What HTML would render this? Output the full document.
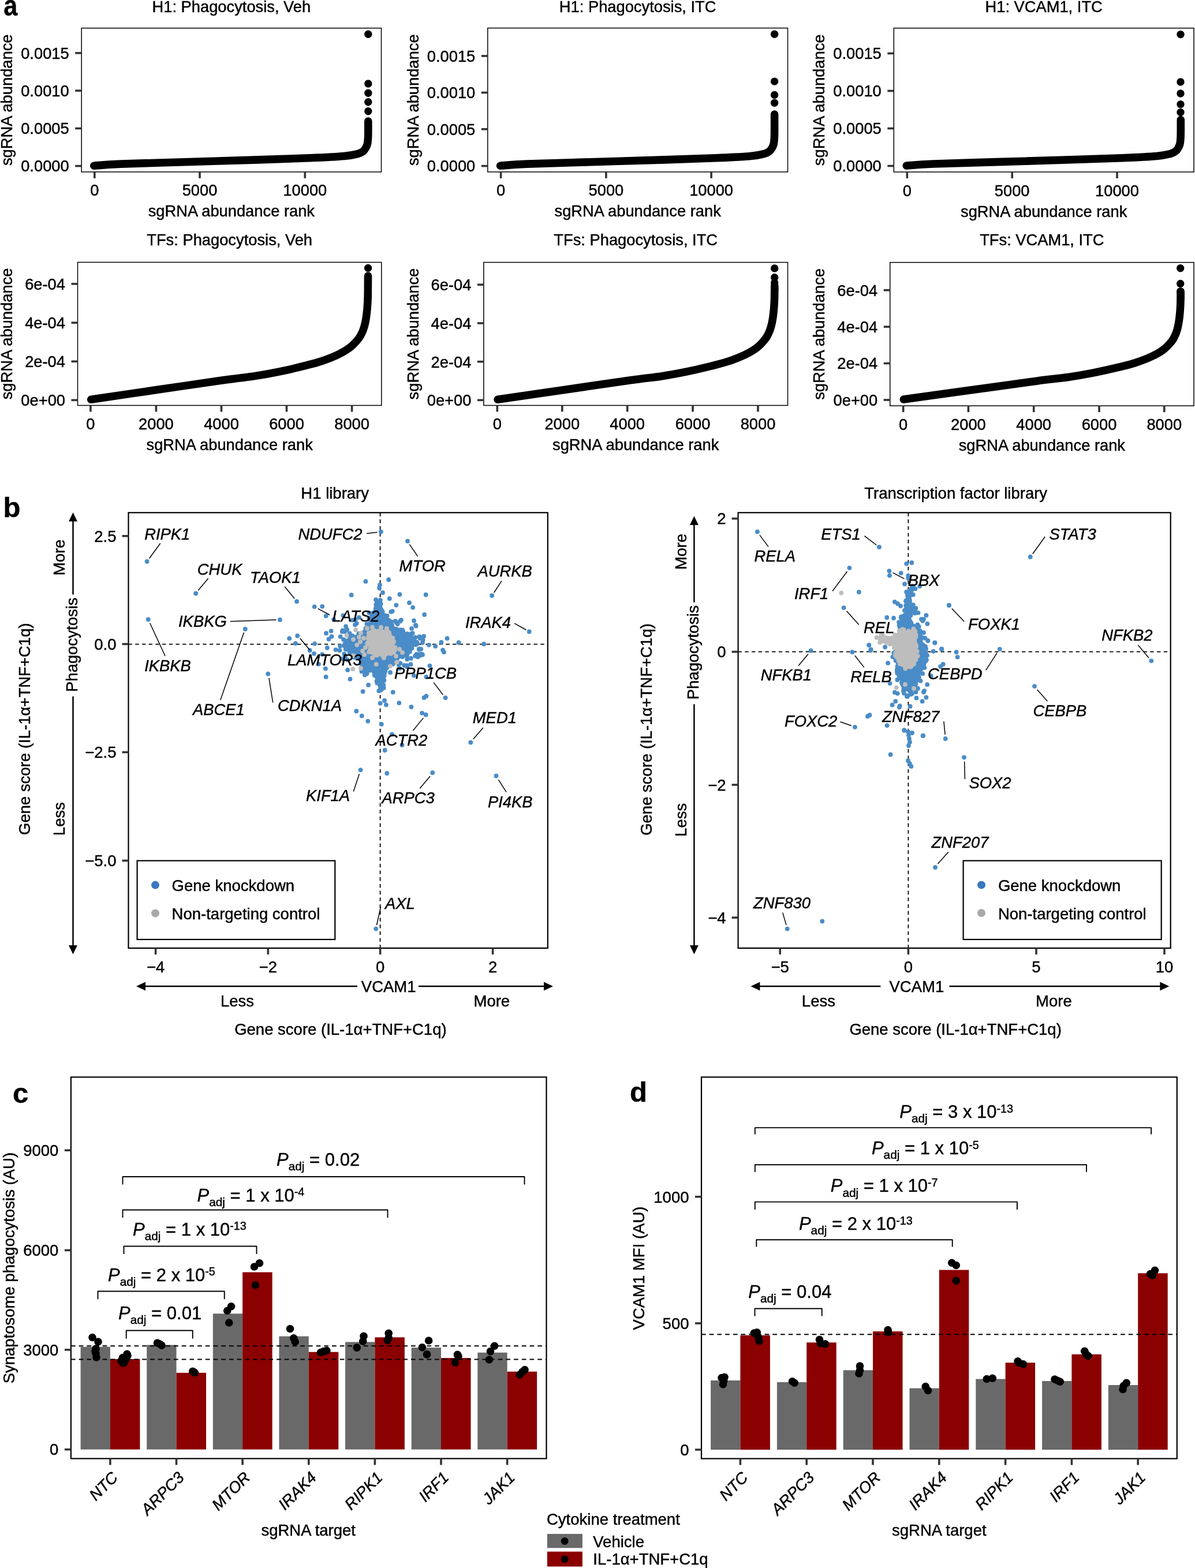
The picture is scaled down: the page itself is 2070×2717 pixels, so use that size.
<!DOCTYPE html>
<html><head><meta charset="utf-8"><title>Figure</title>
<style>html,body{margin:0;padding:0;background:#fff;}svg{display:block;}text{stroke:#000;stroke-width:0.45px;}</style>
</head><body>
<svg xmlns="http://www.w3.org/2000/svg" width="2070" height="2717" viewBox="0 0 2070 2717" font-family="'Liberation Sans', Arial, Helvetica, sans-serif">
<rect x="0" y="0" width="2070" height="2717" fill="#fff"/>
<text x="400.85" y="20.7" font-size="27.3" text-anchor="middle" fill="#000">H1: Phagocytosis, Veh</text>
<path d="M162.8 287.2 C170.58 286.68 181.87 285.22 209.5 284.1 C237.13 282.98 288.92 281.7 328.6 280.5 C368.28 279.3 412.88 278.02 447.6 276.9 C482.32 275.78 512.1 274.87 536.9 273.8 C561.7 272.73 582.52 271.73 596.4 270.5 C610.28 269.27 614.8 267.78 620.2 266.4 C625.6 265.02 626.62 263.82 628.8 262.2 C630.98 260.58 632.05 258.78 633.3 256.7 C634.55 254.62 635.6 252.53 636.3 249.7 C637 246.87 637.25 243.37 637.5 239.7 C637.75 236.03 637.75 232.65 637.8 227.7 C637.85 222.75 637.8 212.95 637.8 210" fill="none" stroke="#000" stroke-width="13.6" stroke-linecap="round" stroke-linejoin="round"/>
<circle cx="637.8" cy="59.2" r="6.7" fill="#000"/>
<circle cx="637.8" cy="145" r="6.7" fill="#000"/>
<circle cx="637.8" cy="161.2" r="6.7" fill="#000"/>
<circle cx="637.8" cy="176.8" r="6.7" fill="#000"/>
<circle cx="637.8" cy="192.8" r="6.7" fill="#000"/>
<rect x="141.2" y="48.7" width="519.3" height="249.2" fill="none" stroke="#000" stroke-width="1.5"/>
<line x1="163.8" y1="297.9" x2="163.8" y2="308.9" stroke="#333" stroke-width="3.6" stroke-linecap="butt"/>
<text x="163.8" y="339.4" font-size="27.3" text-anchor="middle" fill="#000">0</text>
<line x1="346" y1="297.9" x2="346" y2="308.9" stroke="#333" stroke-width="3.6" stroke-linecap="butt"/>
<text x="346" y="339.4" font-size="27.3" text-anchor="middle" fill="#000">5000</text>
<line x1="528.3" y1="297.9" x2="528.3" y2="308.9" stroke="#333" stroke-width="3.6" stroke-linecap="butt"/>
<text x="528.3" y="339.4" font-size="27.3" text-anchor="middle" fill="#000">10000</text>
<line x1="130.2" y1="91.9" x2="141.2" y2="91.9" stroke="#333" stroke-width="3.6" stroke-linecap="butt"/>
<text x="119.7" y="101.7" font-size="27.3" text-anchor="end" fill="#000">0.0015</text>
<line x1="130.2" y1="157.1" x2="141.2" y2="157.1" stroke="#333" stroke-width="3.6" stroke-linecap="butt"/>
<text x="119.7" y="166.9" font-size="27.3" text-anchor="end" fill="#000">0.0010</text>
<line x1="130.2" y1="222.5" x2="141.2" y2="222.5" stroke="#333" stroke-width="3.6" stroke-linecap="butt"/>
<text x="119.7" y="232.3" font-size="27.3" text-anchor="end" fill="#000">0.0005</text>
<line x1="130.2" y1="287.6" x2="141.2" y2="287.6" stroke="#333" stroke-width="3.6" stroke-linecap="butt"/>
<text x="119.7" y="297.4" font-size="27.3" text-anchor="end" fill="#000">0.0000</text>
<text x="400.85" y="375.4" font-size="27.3" text-anchor="middle" fill="#000">sgRNA abundance rank</text>
<text x="21.2" y="173.3" font-size="27.3" text-anchor="middle" transform="rotate(-90 21.2 173.3)" fill="#000">sgRNA abundance</text>
<text x="1104.65" y="20.7" font-size="27.3" text-anchor="middle" fill="#000">H1: Phagocytosis, ITC</text>
<path d="M866.6 287.2 C874.38 286.68 885.67 285.22 913.3 284.1 C940.93 282.98 992.72 281.7 1032.4 280.5 C1072.08 279.3 1116.68 278.02 1151.4 276.9 C1186.12 275.78 1215.9 274.87 1240.7 273.8 C1265.5 272.73 1286.32 271.73 1300.2 270.5 C1314.08 269.27 1318.6 267.78 1324 266.4 C1329.4 265.02 1330.42 263.82 1332.6 262.2 C1334.78 260.58 1335.85 258.78 1337.1 256.7 C1338.35 254.62 1339.4 252.53 1340.1 249.7 C1340.8 246.87 1341.05 243.37 1341.3 239.7 C1341.55 236.03 1341.55 234.65 1341.6 227.7 C1341.65 220.75 1341.6 202.95 1341.6 198" fill="none" stroke="#000" stroke-width="13.6" stroke-linecap="round" stroke-linejoin="round"/>
<circle cx="1341.6" cy="59.2" r="6.7" fill="#000"/>
<circle cx="1341.6" cy="141.1" r="6.7" fill="#000"/>
<circle cx="1341.6" cy="164.4" r="6.7" fill="#000"/>
<circle cx="1341.6" cy="178.3" r="6.7" fill="#000"/>
<rect x="844.8" y="48.6" width="519.7" height="249.3" fill="none" stroke="#000" stroke-width="1.5"/>
<line x1="867.6" y1="297.9" x2="867.6" y2="308.9" stroke="#333" stroke-width="3.6" stroke-linecap="butt"/>
<text x="867.6" y="339.4" font-size="27.3" text-anchor="middle" fill="#000">0</text>
<line x1="1049.9" y1="297.9" x2="1049.9" y2="308.9" stroke="#333" stroke-width="3.6" stroke-linecap="butt"/>
<text x="1049.9" y="339.4" font-size="27.3" text-anchor="middle" fill="#000">5000</text>
<line x1="1232.1" y1="297.9" x2="1232.1" y2="308.9" stroke="#333" stroke-width="3.6" stroke-linecap="butt"/>
<text x="1232.1" y="339.4" font-size="27.3" text-anchor="middle" fill="#000">10000</text>
<line x1="833.8" y1="97" x2="844.8" y2="97" stroke="#333" stroke-width="3.6" stroke-linecap="butt"/>
<text x="823.3" y="106.8" font-size="27.3" text-anchor="end" fill="#000">0.0015</text>
<line x1="833.8" y1="160.5" x2="844.8" y2="160.5" stroke="#333" stroke-width="3.6" stroke-linecap="butt"/>
<text x="823.3" y="170.3" font-size="27.3" text-anchor="end" fill="#000">0.0010</text>
<line x1="833.8" y1="223.8" x2="844.8" y2="223.8" stroke="#333" stroke-width="3.6" stroke-linecap="butt"/>
<text x="823.3" y="233.6" font-size="27.3" text-anchor="end" fill="#000">0.0005</text>
<line x1="833.8" y1="287.6" x2="844.8" y2="287.6" stroke="#333" stroke-width="3.6" stroke-linecap="butt"/>
<text x="823.3" y="297.4" font-size="27.3" text-anchor="end" fill="#000">0.0000</text>
<text x="1104.65" y="375.4" font-size="27.3" text-anchor="middle" fill="#000">sgRNA abundance rank</text>
<text x="724.8" y="173.25" font-size="27.3" text-anchor="middle" transform="rotate(-90 724.8 173.25)" fill="#000">sgRNA abundance</text>
<text x="1808.15" y="20.7" font-size="27.3" text-anchor="middle" fill="#000">H1: VCAM1, ITC</text>
<path d="M1570.3 287.1 C1578.08 286.58 1589.37 285.12 1617 284 C1644.63 282.88 1696.42 281.6 1736.1 280.4 C1775.78 279.2 1820.38 277.92 1855.1 276.8 C1889.82 275.68 1919.6 274.77 1944.4 273.7 C1969.2 272.63 1990.02 271.63 2003.9 270.4 C2017.78 269.17 2022.3 267.68 2027.7 266.3 C2033.1 264.92 2034.12 263.72 2036.3 262.1 C2038.48 260.48 2039.55 258.68 2040.8 256.6 C2042.05 254.52 2043.1 252.43 2043.8 249.6 C2044.5 246.77 2044.75 243.27 2045 239.6 C2045.25 235.93 2045.25 232.95 2045.3 227.6 C2045.35 222.25 2045.3 210.85 2045.3 207.5" fill="none" stroke="#000" stroke-width="13.6" stroke-linecap="round" stroke-linejoin="round"/>
<circle cx="2045" cy="59.6" r="6.7" fill="#000"/>
<circle cx="2045" cy="142" r="6.7" fill="#000"/>
<circle cx="2045" cy="162" r="6.7" fill="#000"/>
<circle cx="2045" cy="180.8" r="6.7" fill="#000"/>
<circle cx="2045" cy="194.6" r="6.7" fill="#000"/>
<rect x="1548.3" y="48.7" width="519.7" height="249.3" fill="none" stroke="#000" stroke-width="1.5"/>
<line x1="1571.3" y1="298" x2="1571.3" y2="309" stroke="#333" stroke-width="3.6" stroke-linecap="butt"/>
<text x="1571.3" y="339.5" font-size="27.3" text-anchor="middle" fill="#000">0</text>
<line x1="1753.2" y1="298" x2="1753.2" y2="309" stroke="#333" stroke-width="3.6" stroke-linecap="butt"/>
<text x="1753.2" y="339.5" font-size="27.3" text-anchor="middle" fill="#000">5000</text>
<line x1="1935" y1="298" x2="1935" y2="309" stroke="#333" stroke-width="3.6" stroke-linecap="butt"/>
<text x="1935" y="339.5" font-size="27.3" text-anchor="middle" fill="#000">10000</text>
<line x1="1537.3" y1="92.5" x2="1548.3" y2="92.5" stroke="#333" stroke-width="3.6" stroke-linecap="butt"/>
<text x="1526.8" y="102.3" font-size="27.3" text-anchor="end" fill="#000">0.0015</text>
<line x1="1537.3" y1="157.5" x2="1548.3" y2="157.5" stroke="#333" stroke-width="3.6" stroke-linecap="butt"/>
<text x="1526.8" y="167.3" font-size="27.3" text-anchor="end" fill="#000">0.0010</text>
<line x1="1537.3" y1="222.5" x2="1548.3" y2="222.5" stroke="#333" stroke-width="3.6" stroke-linecap="butt"/>
<text x="1526.8" y="232.3" font-size="27.3" text-anchor="end" fill="#000">0.0005</text>
<line x1="1537.3" y1="287.5" x2="1548.3" y2="287.5" stroke="#333" stroke-width="3.6" stroke-linecap="butt"/>
<text x="1526.8" y="297.3" font-size="27.3" text-anchor="end" fill="#000">0.0000</text>
<text x="1808.15" y="375.5" font-size="27.3" text-anchor="middle" fill="#000">sgRNA abundance rank</text>
<text x="1428.3" y="173.35" font-size="27.3" text-anchor="middle" transform="rotate(-90 1428.3 173.35)" fill="#000">sgRNA abundance</text>
<text x="397.65" y="425.4" font-size="27.3" text-anchor="middle" fill="#000">TFs: Phagocytosis, Veh</text>
<path d="M157.7 692.2 C176.35 689.47 231.48 681.37 269.6 675.8 C307.72 670.23 357.52 662.87 386.4 658.8 C415.28 654.73 426.35 653.93 442.9 651.4 C459.45 648.87 471.42 646.57 485.7 643.6 C499.98 640.63 516.7 636.58 528.6 633.6 C540.5 630.62 547.58 628.92 557.1 625.7 C566.62 622.48 577.37 618.35 585.7 614.3 C594.03 610.25 601.15 606.05 607.1 601.4 C613.05 596.75 618.02 590.67 621.4 586.4 C624.78 582.13 625.75 579.4 627.4 575.8 C629.05 572.2 630.23 568.55 631.3 564.8 C632.37 561.05 633.1 557.35 633.8 553.3 C634.5 549.25 635.03 544.82 635.5 540.5 C635.97 536.18 636.32 531.78 636.6 527.4 C636.88 523.02 637.07 519.68 637.2 514.2 C637.33 508.72 637.35 500.53 637.4 494.5 C637.45 488.47 637.48 480.75 637.5 478" fill="none" stroke="#000" stroke-width="13.6" stroke-linecap="round" stroke-linejoin="round"/>
<circle cx="637.6" cy="464.4" r="6.7" fill="#000"/>
<rect x="134.5" y="454.5" width="526.3" height="248" fill="none" stroke="#000" stroke-width="1.5"/>
<line x1="156.9" y1="702.5" x2="156.9" y2="713.5" stroke="#333" stroke-width="3.6" stroke-linecap="butt"/>
<text x="156.9" y="744" font-size="27.3" text-anchor="middle" fill="#000">0</text>
<line x1="270.4" y1="702.5" x2="270.4" y2="713.5" stroke="#333" stroke-width="3.6" stroke-linecap="butt"/>
<text x="270.4" y="744" font-size="27.3" text-anchor="middle" fill="#000">2000</text>
<line x1="383.5" y1="702.5" x2="383.5" y2="713.5" stroke="#333" stroke-width="3.6" stroke-linecap="butt"/>
<text x="383.5" y="744" font-size="27.3" text-anchor="middle" fill="#000">4000</text>
<line x1="496.5" y1="702.5" x2="496.5" y2="713.5" stroke="#333" stroke-width="3.6" stroke-linecap="butt"/>
<text x="496.5" y="744" font-size="27.3" text-anchor="middle" fill="#000">6000</text>
<line x1="609.6" y1="702.5" x2="609.6" y2="713.5" stroke="#333" stroke-width="3.6" stroke-linecap="butt"/>
<text x="609.6" y="744" font-size="27.3" text-anchor="middle" fill="#000">8000</text>
<line x1="123.5" y1="491.9" x2="134.5" y2="491.9" stroke="#333" stroke-width="3.6" stroke-linecap="butt"/>
<text x="113" y="501.7" font-size="27.3" text-anchor="end" fill="#000">6e-04</text>
<line x1="123.5" y1="559.2" x2="134.5" y2="559.2" stroke="#333" stroke-width="3.6" stroke-linecap="butt"/>
<text x="113" y="569" font-size="27.3" text-anchor="end" fill="#000">4e-04</text>
<line x1="123.5" y1="626.3" x2="134.5" y2="626.3" stroke="#333" stroke-width="3.6" stroke-linecap="butt"/>
<text x="113" y="636.1" font-size="27.3" text-anchor="end" fill="#000">2e-04</text>
<line x1="123.5" y1="693.3" x2="134.5" y2="693.3" stroke="#333" stroke-width="3.6" stroke-linecap="butt"/>
<text x="113" y="703.1" font-size="27.3" text-anchor="end" fill="#000">0e+00</text>
<text x="397.65" y="780" font-size="27.3" text-anchor="middle" fill="#000">sgRNA abundance rank</text>
<text x="21.2" y="578.5" font-size="27.3" text-anchor="middle" transform="rotate(-90 21.2 578.5)" fill="#000">sgRNA abundance</text>
<text x="1101.2" y="425.4" font-size="27.3" text-anchor="middle" fill="#000">TFs: Phagocytosis, ITC</text>
<path d="M862.1 692.21 C880.75 689.49 935.88 681.45 974 675.92 C1012.12 670.39 1061.92 663.08 1090.8 659.04 C1119.68 655 1130.75 654.21 1147.3 651.69 C1163.85 649.18 1175.82 646.89 1190.1 643.95 C1204.38 641 1221.1 636.98 1233 634.02 C1244.9 631.06 1251.98 629.37 1261.5 626.17 C1271.02 622.98 1281.77 618.87 1290.1 614.85 C1298.43 610.83 1305.55 606.66 1311.5 602.04 C1317.45 597.43 1322.42 591.39 1325.8 587.15 C1329.18 582.91 1330.15 580.2 1331.8 576.62 C1333.45 573.05 1334.63 569.42 1335.7 565.7 C1336.77 561.98 1337.5 558.3 1338.2 554.28 C1338.9 550.26 1339.43 545.86 1339.9 541.57 C1340.37 537.28 1340.72 532.91 1341 528.56 C1341.28 524.21 1341.47 520.9 1341.6 515.45 C1341.73 510.01 1341.75 498.13 1341.8 495.89 C1341.85 493.65 1341.88 500.98 1341.9 502" fill="none" stroke="#000" stroke-width="13.6" stroke-linecap="round" stroke-linejoin="round"/>
<circle cx="1341.7" cy="465" r="6.7" fill="#000"/>
<circle cx="1341.7" cy="480.8" r="6.7" fill="#000"/>
<circle cx="1341.7" cy="490" r="6.7" fill="#000"/>
<rect x="837.9" y="454.6" width="526.6" height="247.9" fill="none" stroke="#000" stroke-width="1.5"/>
<line x1="861.3" y1="702.5" x2="861.3" y2="713.5" stroke="#333" stroke-width="3.6" stroke-linecap="butt"/>
<text x="861.3" y="744" font-size="27.3" text-anchor="middle" fill="#000">0</text>
<line x1="973.8" y1="702.5" x2="973.8" y2="713.5" stroke="#333" stroke-width="3.6" stroke-linecap="butt"/>
<text x="973.8" y="744" font-size="27.3" text-anchor="middle" fill="#000">2000</text>
<line x1="1086.7" y1="702.5" x2="1086.7" y2="713.5" stroke="#333" stroke-width="3.6" stroke-linecap="butt"/>
<text x="1086.7" y="744" font-size="27.3" text-anchor="middle" fill="#000">4000</text>
<line x1="1200" y1="702.5" x2="1200" y2="713.5" stroke="#333" stroke-width="3.6" stroke-linecap="butt"/>
<text x="1200" y="744" font-size="27.3" text-anchor="middle" fill="#000">6000</text>
<line x1="1313" y1="702.5" x2="1313" y2="713.5" stroke="#333" stroke-width="3.6" stroke-linecap="butt"/>
<text x="1313" y="744" font-size="27.3" text-anchor="middle" fill="#000">8000</text>
<line x1="826.9" y1="493.3" x2="837.9" y2="493.3" stroke="#333" stroke-width="3.6" stroke-linecap="butt"/>
<text x="816.4" y="503.1" font-size="27.3" text-anchor="end" fill="#000">6e-04</text>
<line x1="826.9" y1="560" x2="837.9" y2="560" stroke="#333" stroke-width="3.6" stroke-linecap="butt"/>
<text x="816.4" y="569.8" font-size="27.3" text-anchor="end" fill="#000">4e-04</text>
<line x1="826.9" y1="626.7" x2="837.9" y2="626.7" stroke="#333" stroke-width="3.6" stroke-linecap="butt"/>
<text x="816.4" y="636.5" font-size="27.3" text-anchor="end" fill="#000">2e-04</text>
<line x1="826.9" y1="693.3" x2="837.9" y2="693.3" stroke="#333" stroke-width="3.6" stroke-linecap="butt"/>
<text x="816.4" y="703.1" font-size="27.3" text-anchor="end" fill="#000">0e+00</text>
<text x="1101.2" y="780" font-size="27.3" text-anchor="middle" fill="#000">sgRNA abundance rank</text>
<text x="724.8" y="578.55" font-size="27.3" text-anchor="middle" transform="rotate(-90 724.8 578.55)" fill="#000">sgRNA abundance</text>
<text x="1804.85" y="425.4" font-size="27.3" text-anchor="middle" fill="#000">TFs: VCAM1, ITC</text>
<path d="M1565.4 691.96 C1584.05 689.38 1639.18 681.73 1677.3 676.48 C1715.42 671.23 1765.22 664.27 1794.1 660.43 C1822.98 656.59 1834.05 655.84 1850.6 653.45 C1867.15 651.05 1879.12 648.88 1893.4 646.08 C1907.68 643.28 1924.4 639.46 1936.3 636.64 C1948.2 633.83 1955.28 632.22 1964.8 629.19 C1974.32 626.15 1985.07 622.25 1993.4 618.42 C2001.73 614.6 2008.85 610.64 2014.8 606.25 C2020.75 601.86 2025.72 596.11 2029.1 592.09 C2032.48 588.06 2033.45 585.48 2035.1 582.08 C2036.75 578.68 2037.93 575.24 2039 571.7 C2040.07 568.16 2040.8 564.66 2041.5 560.84 C2042.2 557.02 2042.73 552.83 2043.2 548.76 C2043.67 544.68 2044.02 540.53 2044.3 536.39 C2044.58 532.25 2044.77 529.11 2044.9 523.93 C2045.03 518.75 2045.05 506.15 2045.1 505.33 C2045.15 504.51 2045.18 516.72 2045.2 519" fill="none" stroke="#000" stroke-width="13.6" stroke-linecap="round" stroke-linejoin="round"/>
<circle cx="2044.7" cy="464.8" r="6.7" fill="#000"/>
<circle cx="2044.7" cy="491.4" r="6.7" fill="#000"/>
<circle cx="2044.7" cy="505" r="6.7" fill="#000"/>
<rect x="1541.7" y="454.7" width="526.3" height="248.5" fill="none" stroke="#000" stroke-width="1.5"/>
<line x1="1564.6" y1="703.2" x2="1564.6" y2="714.2" stroke="#333" stroke-width="3.6" stroke-linecap="butt"/>
<text x="1564.6" y="744.7" font-size="27.3" text-anchor="middle" fill="#000">0</text>
<line x1="1677.4" y1="703.2" x2="1677.4" y2="714.2" stroke="#333" stroke-width="3.6" stroke-linecap="butt"/>
<text x="1677.4" y="744.7" font-size="27.3" text-anchor="middle" fill="#000">2000</text>
<line x1="1790.7" y1="703.2" x2="1790.7" y2="714.2" stroke="#333" stroke-width="3.6" stroke-linecap="butt"/>
<text x="1790.7" y="744.7" font-size="27.3" text-anchor="middle" fill="#000">4000</text>
<line x1="1904" y1="703.2" x2="1904" y2="714.2" stroke="#333" stroke-width="3.6" stroke-linecap="butt"/>
<text x="1904" y="744.7" font-size="27.3" text-anchor="middle" fill="#000">6000</text>
<line x1="2016.8" y1="703.2" x2="2016.8" y2="714.2" stroke="#333" stroke-width="3.6" stroke-linecap="butt"/>
<text x="2016.8" y="744.7" font-size="27.3" text-anchor="middle" fill="#000">8000</text>
<line x1="1530.7" y1="502.8" x2="1541.7" y2="502.8" stroke="#333" stroke-width="3.6" stroke-linecap="butt"/>
<text x="1520.2" y="512.6" font-size="27.3" text-anchor="end" fill="#000">6e-04</text>
<line x1="1530.7" y1="566.2" x2="1541.7" y2="566.2" stroke="#333" stroke-width="3.6" stroke-linecap="butt"/>
<text x="1520.2" y="576" font-size="27.3" text-anchor="end" fill="#000">4e-04</text>
<line x1="1530.7" y1="629.6" x2="1541.7" y2="629.6" stroke="#333" stroke-width="3.6" stroke-linecap="butt"/>
<text x="1520.2" y="639.4" font-size="27.3" text-anchor="end" fill="#000">2e-04</text>
<line x1="1530.7" y1="693" x2="1541.7" y2="693" stroke="#333" stroke-width="3.6" stroke-linecap="butt"/>
<text x="1520.2" y="702.8" font-size="27.3" text-anchor="end" fill="#000">0e+00</text>
<text x="1804.85" y="780.7" font-size="27.3" text-anchor="middle" fill="#000">sgRNA abundance rank</text>
<text x="1428.3" y="578.95" font-size="27.3" text-anchor="middle" transform="rotate(-90 1428.3 578.95)" fill="#000">sgRNA abundance</text>
<text x="0" y="0" font-size="49" font-weight="bold" transform="translate(6.2 27.4) scale(0.88 1.02)">a</text>
<line x1="222.5" y1="1116.3" x2="948.8" y2="1116.3" stroke="#000" stroke-width="1.8" stroke-linecap="butt" stroke-dasharray="6.4,5.3"/>
<line x1="658.6" y1="888.3" x2="658.6" y2="1642.9" stroke="#000" stroke-width="1.8" stroke-linecap="butt" stroke-dasharray="6.4,5.3"/>
<path d="M652 1041 L658 1042 L661 1052 L665 1062 L672 1072 L677 1084 L697 1094 L712 1103 L722 1111 L722 1116 L714 1122 L708 1132 L698 1135 L686 1140 L673 1147 L669 1165 L664 1185 L662 1195 L657 1195 L654 1180 L650 1166 L641 1161 L630 1168 L627 1164 L630 1155 L632 1147 L624 1141 L609 1131 L599 1125 L598 1117 L602 1108 L614 1102 L627 1097 L638 1087 L643 1076 L648 1061 L649 1048 Z" fill="#4a8cc7" stroke="#4a8cc7" stroke-width="2" stroke-linejoin="round"/>
<circle cx="651.08" cy="1039.18" r="3.9" fill="#4a8cc7"/>
<circle cx="658.78" cy="1039.78" r="3.9" fill="#4a8cc7"/>
<circle cx="659.69" cy="1046.3" r="3.9" fill="#4a8cc7"/>
<circle cx="658.7" cy="1052.04" r="3.9" fill="#4a8cc7"/>
<circle cx="660.59" cy="1056.65" r="3.9" fill="#4a8cc7"/>
<circle cx="662.76" cy="1059.87" r="3.9" fill="#4a8cc7"/>
<circle cx="666.94" cy="1067.03" r="3.9" fill="#4a8cc7"/>
<circle cx="667.71" cy="1067.23" r="3.9" fill="#4a8cc7"/>
<circle cx="672.66" cy="1074.33" r="3.9" fill="#4a8cc7"/>
<circle cx="674.07" cy="1075.46" r="3.9" fill="#4a8cc7"/>
<circle cx="677.81" cy="1077.64" r="3.9" fill="#4a8cc7"/>
<circle cx="678.86" cy="1082.91" r="3.9" fill="#4a8cc7"/>
<circle cx="679.15" cy="1084.01" r="3.9" fill="#4a8cc7"/>
<circle cx="684" cy="1089.64" r="3.9" fill="#4a8cc7"/>
<circle cx="687.34" cy="1090.42" r="3.9" fill="#4a8cc7"/>
<circle cx="693.72" cy="1091.34" r="3.9" fill="#4a8cc7"/>
<circle cx="697.25" cy="1091.73" r="3.9" fill="#4a8cc7"/>
<circle cx="698.46" cy="1094.72" r="3.9" fill="#4a8cc7"/>
<circle cx="705.44" cy="1098.12" r="3.9" fill="#4a8cc7"/>
<circle cx="707.28" cy="1101.19" r="3.9" fill="#4a8cc7"/>
<circle cx="711.76" cy="1101.96" r="3.9" fill="#4a8cc7"/>
<circle cx="716.86" cy="1106.7" r="3.9" fill="#4a8cc7"/>
<circle cx="717.34" cy="1108.72" r="3.9" fill="#4a8cc7"/>
<circle cx="722.13" cy="1112.95" r="3.9" fill="#4a8cc7"/>
<circle cx="723.19" cy="1114.9" r="3.9" fill="#4a8cc7"/>
<circle cx="720.5" cy="1117.01" r="3.9" fill="#4a8cc7"/>
<circle cx="713.57" cy="1123.34" r="3.9" fill="#4a8cc7"/>
<circle cx="709.19" cy="1126.94" r="3.9" fill="#4a8cc7"/>
<circle cx="705.6" cy="1132.87" r="3.9" fill="#4a8cc7"/>
<circle cx="704.38" cy="1133.88" r="3.9" fill="#4a8cc7"/>
<circle cx="699.95" cy="1134.03" r="3.9" fill="#4a8cc7"/>
<circle cx="695.02" cy="1137.16" r="3.9" fill="#4a8cc7"/>
<circle cx="690.42" cy="1138.11" r="3.9" fill="#4a8cc7"/>
<circle cx="687.77" cy="1142.31" r="3.9" fill="#4a8cc7"/>
<circle cx="681.53" cy="1143.19" r="3.9" fill="#4a8cc7"/>
<circle cx="675.05" cy="1145.71" r="3.9" fill="#4a8cc7"/>
<circle cx="673.77" cy="1149.56" r="3.9" fill="#4a8cc7"/>
<circle cx="673.67" cy="1150.38" r="3.9" fill="#4a8cc7"/>
<circle cx="670.41" cy="1156.88" r="3.9" fill="#4a8cc7"/>
<circle cx="667.52" cy="1160.3" r="3.9" fill="#4a8cc7"/>
<circle cx="667.27" cy="1163.01" r="3.9" fill="#4a8cc7"/>
<circle cx="665.71" cy="1170.39" r="3.9" fill="#4a8cc7"/>
<circle cx="665.07" cy="1171.69" r="3.9" fill="#4a8cc7"/>
<circle cx="665.43" cy="1178.93" r="3.9" fill="#4a8cc7"/>
<circle cx="662.82" cy="1180.74" r="3.9" fill="#4a8cc7"/>
<circle cx="664.26" cy="1186.99" r="3.9" fill="#4a8cc7"/>
<circle cx="664.66" cy="1191.89" r="3.9" fill="#4a8cc7"/>
<circle cx="660.85" cy="1194.56" r="3.9" fill="#4a8cc7"/>
<circle cx="656.27" cy="1197" r="3.9" fill="#4a8cc7"/>
<circle cx="658.38" cy="1188.18" r="3.9" fill="#4a8cc7"/>
<circle cx="653.32" cy="1183.61" r="3.9" fill="#4a8cc7"/>
<circle cx="652.61" cy="1179.92" r="3.9" fill="#4a8cc7"/>
<circle cx="653.13" cy="1174.1" r="3.9" fill="#4a8cc7"/>
<circle cx="648.75" cy="1170.25" r="3.9" fill="#4a8cc7"/>
<circle cx="649.32" cy="1166.34" r="3.9" fill="#4a8cc7"/>
<circle cx="647.86" cy="1164.49" r="3.9" fill="#4a8cc7"/>
<circle cx="641.08" cy="1161.61" r="3.9" fill="#4a8cc7"/>
<circle cx="638.25" cy="1161.01" r="3.9" fill="#4a8cc7"/>
<circle cx="635.74" cy="1167.12" r="3.9" fill="#4a8cc7"/>
<circle cx="631.95" cy="1169.55" r="3.9" fill="#4a8cc7"/>
<circle cx="626.44" cy="1163.47" r="3.9" fill="#4a8cc7"/>
<circle cx="626.44" cy="1160.2" r="3.9" fill="#4a8cc7"/>
<circle cx="627.72" cy="1152.75" r="3.9" fill="#4a8cc7"/>
<circle cx="629.49" cy="1149.24" r="3.9" fill="#4a8cc7"/>
<circle cx="631.17" cy="1144.67" r="3.9" fill="#4a8cc7"/>
<circle cx="625.4" cy="1142.19" r="3.9" fill="#4a8cc7"/>
<circle cx="621.93" cy="1140.29" r="3.9" fill="#4a8cc7"/>
<circle cx="617.78" cy="1140.45" r="3.9" fill="#4a8cc7"/>
<circle cx="617.09" cy="1134.17" r="3.9" fill="#4a8cc7"/>
<circle cx="611.46" cy="1132.71" r="3.9" fill="#4a8cc7"/>
<circle cx="608.29" cy="1129.04" r="3.9" fill="#4a8cc7"/>
<circle cx="605.81" cy="1130.56" r="3.9" fill="#4a8cc7"/>
<circle cx="598.82" cy="1124.92" r="3.9" fill="#4a8cc7"/>
<circle cx="596.35" cy="1118.93" r="3.9" fill="#4a8cc7"/>
<circle cx="597.18" cy="1115.78" r="3.9" fill="#4a8cc7"/>
<circle cx="601.71" cy="1110.74" r="3.9" fill="#4a8cc7"/>
<circle cx="599.52" cy="1110.35" r="3.9" fill="#4a8cc7"/>
<circle cx="606.15" cy="1104.16" r="3.9" fill="#4a8cc7"/>
<circle cx="610.22" cy="1101.54" r="3.9" fill="#4a8cc7"/>
<circle cx="614.15" cy="1104.49" r="3.9" fill="#4a8cc7"/>
<circle cx="620.22" cy="1101.35" r="3.9" fill="#4a8cc7"/>
<circle cx="621.42" cy="1097.97" r="3.9" fill="#4a8cc7"/>
<circle cx="625.27" cy="1098.41" r="3.9" fill="#4a8cc7"/>
<circle cx="630.84" cy="1095.12" r="3.9" fill="#4a8cc7"/>
<circle cx="633.45" cy="1088.89" r="3.9" fill="#4a8cc7"/>
<circle cx="639.62" cy="1089.52" r="3.9" fill="#4a8cc7"/>
<circle cx="641.5" cy="1084.92" r="3.9" fill="#4a8cc7"/>
<circle cx="642.99" cy="1080.91" r="3.9" fill="#4a8cc7"/>
<circle cx="641.58" cy="1076.09" r="3.9" fill="#4a8cc7"/>
<circle cx="643.92" cy="1068.55" r="3.9" fill="#4a8cc7"/>
<circle cx="643.88" cy="1064.85" r="3.9" fill="#4a8cc7"/>
<circle cx="646.75" cy="1062" r="3.9" fill="#4a8cc7"/>
<circle cx="650.71" cy="1056.39" r="3.9" fill="#4a8cc7"/>
<circle cx="650.94" cy="1054.87" r="3.9" fill="#4a8cc7"/>
<circle cx="651.37" cy="1047.3" r="3.9" fill="#4a8cc7"/>
<circle cx="671.76" cy="1150.13" r="3.9" fill="#4a8cc7"/>
<circle cx="679.13" cy="1148.1" r="3.9" fill="#4a8cc7"/>
<circle cx="610.41" cy="1074.61" r="3.9" fill="#4a8cc7"/>
<circle cx="694.83" cy="1074.29" r="3.9" fill="#4a8cc7"/>
<circle cx="621.95" cy="1069.95" r="3.9" fill="#4a8cc7"/>
<circle cx="719.04" cy="1136.66" r="3.9" fill="#4a8cc7"/>
<circle cx="720.62" cy="1084.63" r="3.9" fill="#4a8cc7"/>
<circle cx="662.05" cy="1067.29" r="3.9" fill="#4a8cc7"/>
<circle cx="692.25" cy="1158.03" r="3.9" fill="#4a8cc7"/>
<circle cx="627.32" cy="1156.57" r="3.9" fill="#4a8cc7"/>
<circle cx="719.52" cy="1104.41" r="3.9" fill="#4a8cc7"/>
<circle cx="602.01" cy="1143.38" r="3.9" fill="#4a8cc7"/>
<circle cx="653.97" cy="1075.14" r="3.9" fill="#4a8cc7"/>
<circle cx="697.05" cy="1138.37" r="3.9" fill="#4a8cc7"/>
<circle cx="719.96" cy="1083.06" r="3.9" fill="#4a8cc7"/>
<circle cx="704.89" cy="1153.17" r="3.9" fill="#4a8cc7"/>
<circle cx="727.61" cy="1106.02" r="3.9" fill="#4a8cc7"/>
<circle cx="624.81" cy="1149.33" r="3.9" fill="#4a8cc7"/>
<circle cx="692.57" cy="1136.17" r="3.9" fill="#4a8cc7"/>
<circle cx="726.81" cy="1103.21" r="3.9" fill="#4a8cc7"/>
<circle cx="589.66" cy="1103.06" r="3.9" fill="#4a8cc7"/>
<circle cx="596.32" cy="1133.27" r="3.9" fill="#4a8cc7"/>
<circle cx="686.1" cy="1077.92" r="3.9" fill="#4a8cc7"/>
<circle cx="661.36" cy="1152.43" r="3.9" fill="#4a8cc7"/>
<circle cx="665.81" cy="1158.95" r="3.9" fill="#4a8cc7"/>
<circle cx="658.52" cy="1155.31" r="3.9" fill="#4a8cc7"/>
<circle cx="711.46" cy="1151.15" r="3.9" fill="#4a8cc7"/>
<circle cx="625.37" cy="1147.18" r="3.9" fill="#4a8cc7"/>
<circle cx="599.1" cy="1085.36" r="3.9" fill="#4a8cc7"/>
<circle cx="597.92" cy="1137.59" r="3.9" fill="#4a8cc7"/>
<circle cx="599.45" cy="1111.52" r="3.9" fill="#4a8cc7"/>
<circle cx="617.36" cy="1107.13" r="3.9" fill="#4a8cc7"/>
<circle cx="614.23" cy="1125.84" r="3.9" fill="#4a8cc7"/>
<circle cx="731.91" cy="1113.27" r="3.9" fill="#4a8cc7"/>
<circle cx="690.51" cy="1151.4" r="3.9" fill="#4a8cc7"/>
<circle cx="652.18" cy="1066.16" r="3.9" fill="#4a8cc7"/>
<circle cx="633.44" cy="1152.49" r="3.9" fill="#4a8cc7"/>
<circle cx="596.63" cy="1094.59" r="3.9" fill="#4a8cc7"/>
<circle cx="711.81" cy="1140.74" r="3.9" fill="#4a8cc7"/>
<circle cx="662.52" cy="1152.04" r="3.9" fill="#4a8cc7"/>
<circle cx="670.62" cy="1067.09" r="3.9" fill="#4a8cc7"/>
<circle cx="598.22" cy="1092.89" r="3.9" fill="#4a8cc7"/>
<circle cx="713.08" cy="1089.04" r="3.9" fill="#4a8cc7"/>
<circle cx="615.03" cy="1082.57" r="3.9" fill="#4a8cc7"/>
<circle cx="595.1" cy="1108.24" r="3.9" fill="#4a8cc7"/>
<circle cx="602.19" cy="1125.54" r="3.9" fill="#4a8cc7"/>
<circle cx="589.14" cy="1119.42" r="3.9" fill="#4a8cc7"/>
<circle cx="639.44" cy="1061.92" r="3.9" fill="#4a8cc7"/>
<circle cx="712.49" cy="1097.92" r="3.9" fill="#4a8cc7"/>
<circle cx="593.48" cy="1092.28" r="3.9" fill="#4a8cc7"/>
<circle cx="688.63" cy="1081.23" r="3.9" fill="#4a8cc7"/>
<circle cx="705.23" cy="1142.38" r="3.9" fill="#4a8cc7"/>
<circle cx="709.92" cy="1129.23" r="3.9" fill="#4a8cc7"/>
<circle cx="721.57" cy="1133.61" r="3.9" fill="#4a8cc7"/>
<circle cx="677.33" cy="1060.08" r="3.9" fill="#4a8cc7"/>
<circle cx="700.26" cy="1152.98" r="3.9" fill="#4a8cc7"/>
<circle cx="635.32" cy="1081.06" r="3.9" fill="#4a8cc7"/>
<circle cx="716.99" cy="1075.46" r="3.9" fill="#4a8cc7"/>
<circle cx="676.02" cy="1165.16" r="3.9" fill="#4a8cc7"/>
<circle cx="612.85" cy="1138.79" r="3.9" fill="#4a8cc7"/>
<circle cx="732.65" cy="1108.7" r="3.9" fill="#4a8cc7"/>
<circle cx="693.45" cy="1149.09" r="3.9" fill="#4a8cc7"/>
<circle cx="605.63" cy="1107.93" r="3.9" fill="#4a8cc7"/>
<circle cx="680.71" cy="1150.69" r="3.9" fill="#4a8cc7"/>
<circle cx="654.14" cy="1079.38" r="3.9" fill="#4a8cc7"/>
<circle cx="605.59" cy="1097.39" r="3.9" fill="#4a8cc7"/>
<circle cx="718.03" cy="1116.69" r="3.9" fill="#4a8cc7"/>
<circle cx="617.88" cy="1080.08" r="3.9" fill="#4a8cc7"/>
<circle cx="730.63" cy="1133.51" r="3.9" fill="#4a8cc7"/>
<circle cx="679.74" cy="1059.08" r="3.9" fill="#4a8cc7"/>
<circle cx="704.89" cy="1136.33" r="3.9" fill="#4a8cc7"/>
<circle cx="729.27" cy="1124.53" r="3.9" fill="#4a8cc7"/>
<circle cx="655.67" cy="1147.94" r="3.9" fill="#4a8cc7"/>
<circle cx="597.71" cy="1137.06" r="3.9" fill="#4a8cc7"/>
<circle cx="684.67" cy="1076.07" r="3.9" fill="#4a8cc7"/>
<circle cx="705.14" cy="1155.19" r="3.9" fill="#4a8cc7"/>
<circle cx="601.21" cy="1090.82" r="3.9" fill="#4a8cc7"/>
<circle cx="701.5" cy="1130.24" r="3.9" fill="#4a8cc7"/>
<circle cx="639.53" cy="1071.71" r="3.9" fill="#4a8cc7"/>
<circle cx="728.01" cy="1135.68" r="3.9" fill="#4a8cc7"/>
<circle cx="615.52" cy="1073.62" r="3.9" fill="#4a8cc7"/>
<circle cx="723.75" cy="1138.3" r="3.9" fill="#4a8cc7"/>
<circle cx="727.4" cy="1133.34" r="3.9" fill="#4a8cc7"/>
<circle cx="607.73" cy="1123.9" r="3.9" fill="#4a8cc7"/>
<circle cx="592.84" cy="1094.43" r="3.9" fill="#4a8cc7"/>
<circle cx="656.47" cy="1148.01" r="3.9" fill="#4a8cc7"/>
<circle cx="609.46" cy="1105.42" r="3.9" fill="#4a8cc7"/>
<circle cx="701.09" cy="1135.55" r="3.9" fill="#4a8cc7"/>
<circle cx="711.44" cy="1123.88" r="3.9" fill="#4a8cc7"/>
<circle cx="640.91" cy="1149.67" r="3.9" fill="#4a8cc7"/>
<circle cx="661.76" cy="1089.04" r="3.9" fill="#4a8cc7"/>
<circle cx="633.67" cy="1111.99" r="3.9" fill="#4a8cc7"/>
<circle cx="648.07" cy="1125.29" r="3.9" fill="#4a8cc7"/>
<circle cx="659.94" cy="1128.13" r="3.9" fill="#4a8cc7"/>
<circle cx="656.18" cy="1084.14" r="3.9" fill="#4a8cc7"/>
<circle cx="672.72" cy="1136.75" r="3.9" fill="#4a8cc7"/>
<circle cx="682.03" cy="1104.54" r="3.9" fill="#4a8cc7"/>
<circle cx="673.95" cy="1088.53" r="3.9" fill="#4a8cc7"/>
<circle cx="618.1" cy="1113.02" r="3.9" fill="#4a8cc7"/>
<circle cx="632.6" cy="1128.95" r="3.9" fill="#4a8cc7"/>
<circle cx="642.96" cy="1079.87" r="3.9" fill="#4a8cc7"/>
<circle cx="636.97" cy="1139.2" r="3.9" fill="#4a8cc7"/>
<circle cx="649.83" cy="1083.62" r="3.9" fill="#4a8cc7"/>
<circle cx="634.3" cy="1125.64" r="3.9" fill="#4a8cc7"/>
<circle cx="683.37" cy="1118.47" r="3.9" fill="#4a8cc7"/>
<circle cx="696.17" cy="1125.4" r="3.9" fill="#4a8cc7"/>
<circle cx="659.09" cy="1132.11" r="3.9" fill="#4a8cc7"/>
<circle cx="696.26" cy="1128.56" r="3.9" fill="#4a8cc7"/>
<circle cx="686.53" cy="1090.17" r="3.9" fill="#4a8cc7"/>
<circle cx="654.37" cy="1133.52" r="3.9" fill="#4a8cc7"/>
<circle cx="650.94" cy="1137.41" r="3.9" fill="#4a8cc7"/>
<circle cx="678.43" cy="1133.83" r="3.9" fill="#4a8cc7"/>
<circle cx="656.32" cy="1146.34" r="3.9" fill="#4a8cc7"/>
<circle cx="695.4" cy="1107.22" r="3.9" fill="#4a8cc7"/>
<circle cx="661.55" cy="1146.49" r="3.9" fill="#4a8cc7"/>
<circle cx="648.54" cy="1134.69" r="3.9" fill="#4a8cc7"/>
<circle cx="691.99" cy="1112.17" r="3.9" fill="#4a8cc7"/>
<circle cx="625.52" cy="1116.31" r="3.9" fill="#4a8cc7"/>
<circle cx="670.6" cy="1137.92" r="3.9" fill="#4a8cc7"/>
<circle cx="688.85" cy="1112.7" r="3.9" fill="#4a8cc7"/>
<circle cx="687.42" cy="1125.49" r="3.9" fill="#4a8cc7"/>
<circle cx="680.29" cy="1116.23" r="3.9" fill="#4a8cc7"/>
<circle cx="650.65" cy="1132.5" r="3.9" fill="#4a8cc7"/>
<circle cx="629.49" cy="1097.85" r="3.9" fill="#4a8cc7"/>
<circle cx="660.13" cy="1082.18" r="3.9" fill="#4a8cc7"/>
<circle cx="650.93" cy="1079.49" r="3.9" fill="#4a8cc7"/>
<circle cx="636.52" cy="1127.2" r="3.9" fill="#4a8cc7"/>
<circle cx="685.32" cy="1110.1" r="3.9" fill="#4a8cc7"/>
<circle cx="653.85" cy="1082.8" r="3.9" fill="#4a8cc7"/>
<circle cx="700.35" cy="1120.86" r="3.9" fill="#4a8cc7"/>
<circle cx="254.6" cy="972.8" r="3.9" fill="#4a8cc7"/>
<circle cx="339.2" cy="1028.2" r="3.9" fill="#4a8cc7"/>
<circle cx="514.1" cy="1042.2" r="3.9" fill="#4a8cc7"/>
<circle cx="256.7" cy="1073.4" r="3.9" fill="#4a8cc7"/>
<circle cx="484.9" cy="1073.9" r="3.9" fill="#4a8cc7"/>
<circle cx="424.8" cy="1090" r="3.9" fill="#4a8cc7"/>
<circle cx="544.7" cy="1051.3" r="3.9" fill="#4a8cc7"/>
<circle cx="558.2" cy="1050.8" r="3.9" fill="#4a8cc7"/>
<circle cx="564.6" cy="1067.3" r="3.9" fill="#4a8cc7"/>
<circle cx="578.1" cy="1073.4" r="3.9" fill="#4a8cc7"/>
<circle cx="594.4" cy="1066.6" r="3.9" fill="#4a8cc7"/>
<circle cx="501.2" cy="1106.2" r="3.9" fill="#4a8cc7"/>
<circle cx="515.2" cy="1101.7" r="3.9" fill="#4a8cc7"/>
<circle cx="511.9" cy="1114.8" r="3.9" fill="#4a8cc7"/>
<circle cx="545.1" cy="1115.3" r="3.9" fill="#4a8cc7"/>
<circle cx="565" cy="1097.2" r="3.9" fill="#4a8cc7"/>
<circle cx="573.6" cy="1093.3" r="3.9" fill="#4a8cc7"/>
<circle cx="574.5" cy="1102.9" r="3.9" fill="#4a8cc7"/>
<circle cx="569.5" cy="1107.4" r="3.9" fill="#4a8cc7"/>
<circle cx="566.8" cy="1122.5" r="3.9" fill="#4a8cc7"/>
<circle cx="536.7" cy="1127" r="3.9" fill="#4a8cc7"/>
<circle cx="544" cy="1132.6" r="3.9" fill="#4a8cc7"/>
<circle cx="558.2" cy="1133.8" r="3.9" fill="#4a8cc7"/>
<circle cx="581.5" cy="1125.8" r="3.9" fill="#4a8cc7"/>
<circle cx="588.3" cy="1127" r="3.9" fill="#4a8cc7"/>
<circle cx="551.9" cy="1150.7" r="3.9" fill="#4a8cc7"/>
<circle cx="563.9" cy="1158.6" r="3.9" fill="#4a8cc7"/>
<circle cx="564.6" cy="1172.9" r="3.9" fill="#4a8cc7"/>
<circle cx="593.3" cy="1141.7" r="3.9" fill="#4a8cc7"/>
<circle cx="464.3" cy="1167.7" r="3.9" fill="#4a8cc7"/>
<circle cx="659.9" cy="921.4" r="3.9" fill="#4a8cc7"/>
<circle cx="706" cy="937.7" r="3.9" fill="#4a8cc7"/>
<circle cx="852.2" cy="1032" r="3.9" fill="#4a8cc7"/>
<circle cx="916.7" cy="1094.5" r="3.9" fill="#4a8cc7"/>
<circle cx="633.4" cy="1007.4" r="3.9" fill="#4a8cc7"/>
<circle cx="673.2" cy="1004.4" r="3.9" fill="#4a8cc7"/>
<circle cx="608.7" cy="1030.9" r="3.9" fill="#4a8cc7"/>
<circle cx="692.4" cy="1030" r="3.9" fill="#4a8cc7"/>
<circle cx="737.7" cy="1030.5" r="3.9" fill="#4a8cc7"/>
<circle cx="674.8" cy="1037.2" r="3.9" fill="#4a8cc7"/>
<circle cx="686.3" cy="1048.6" r="3.9" fill="#4a8cc7"/>
<circle cx="709" cy="1044.5" r="3.9" fill="#4a8cc7"/>
<circle cx="715.1" cy="1052.6" r="3.9" fill="#4a8cc7"/>
<circle cx="735.2" cy="1065" r="3.9" fill="#4a8cc7"/>
<circle cx="693.1" cy="1076.4" r="3.9" fill="#4a8cc7"/>
<circle cx="714.6" cy="1097.2" r="3.9" fill="#4a8cc7"/>
<circle cx="734.1" cy="1102.4" r="3.9" fill="#4a8cc7"/>
<circle cx="774.6" cy="1106.2" r="3.9" fill="#4a8cc7"/>
<circle cx="764.4" cy="1113" r="3.9" fill="#4a8cc7"/>
<circle cx="794.5" cy="1113.5" r="3.9" fill="#4a8cc7"/>
<circle cx="838.1" cy="1116" r="3.9" fill="#4a8cc7"/>
<circle cx="742.9" cy="1117.6" r="3.9" fill="#4a8cc7"/>
<circle cx="754.2" cy="1119.8" r="3.9" fill="#4a8cc7"/>
<circle cx="725.9" cy="1124.3" r="3.9" fill="#4a8cc7"/>
<circle cx="658" cy="1013.5" r="3.9" fill="#4a8cc7"/>
<circle cx="657" cy="1019" r="3.9" fill="#4a8cc7"/>
<circle cx="663" cy="1027" r="3.9" fill="#4a8cc7"/>
<circle cx="652.4" cy="1040.6" r="3.9" fill="#4a8cc7"/>
<circle cx="771.6" cy="1209.1" r="3.9" fill="#4a8cc7"/>
<circle cx="731.1" cy="1235.6" r="3.9" fill="#4a8cc7"/>
<circle cx="737.7" cy="1238.5" r="3.9" fill="#4a8cc7"/>
<circle cx="815.3" cy="1286.5" r="3.9" fill="#4a8cc7"/>
<circle cx="617.3" cy="1232.2" r="3.9" fill="#4a8cc7"/>
<circle cx="626.8" cy="1240.5" r="3.9" fill="#4a8cc7"/>
<circle cx="637.2" cy="1249.6" r="3.9" fill="#4a8cc7"/>
<circle cx="660.8" cy="1254.8" r="3.9" fill="#4a8cc7"/>
<circle cx="628.6" cy="1198.2" r="3.9" fill="#4a8cc7"/>
<circle cx="638.1" cy="1186.9" r="3.9" fill="#4a8cc7"/>
<circle cx="606.5" cy="1176.7" r="3.9" fill="#4a8cc7"/>
<circle cx="602.2" cy="1160.9" r="3.9" fill="#4a8cc7"/>
<circle cx="680.7" cy="1199.4" r="3.9" fill="#4a8cc7"/>
<circle cx="691.3" cy="1218.1" r="3.9" fill="#4a8cc7"/>
<circle cx="712.4" cy="1224.9" r="3.9" fill="#4a8cc7"/>
<circle cx="734.5" cy="1208.9" r="3.9" fill="#4a8cc7"/>
<circle cx="738.4" cy="1206.2" r="3.9" fill="#4a8cc7"/>
<circle cx="668.9" cy="1221.3" r="3.9" fill="#4a8cc7"/>
<circle cx="658.7" cy="1218.6" r="3.9" fill="#4a8cc7"/>
<circle cx="666" cy="1214" r="3.9" fill="#4a8cc7"/>
<circle cx="678.9" cy="1272.4" r="3.9" fill="#4a8cc7"/>
<circle cx="696.5" cy="1291" r="3.9" fill="#4a8cc7"/>
<circle cx="666.7" cy="1300" r="3.9" fill="#4a8cc7"/>
<circle cx="744.5" cy="1153.7" r="3.9" fill="#4a8cc7"/>
<circle cx="738.4" cy="1172.9" r="3.9" fill="#4a8cc7"/>
<circle cx="716.9" cy="1170.6" r="3.9" fill="#4a8cc7"/>
<circle cx="732" cy="1134.4" r="3.9" fill="#4a8cc7"/>
<circle cx="725.9" cy="1125.4" r="3.9" fill="#4a8cc7"/>
<circle cx="768.9" cy="1129.9" r="3.9" fill="#4a8cc7"/>
<circle cx="767.1" cy="1126.3" r="3.9" fill="#4a8cc7"/>
<circle cx="659.2" cy="1196" r="3.9" fill="#4a8cc7"/>
<circle cx="662" cy="1190" r="3.9" fill="#4a8cc7"/>
<circle cx="655" cy="1180" r="3.9" fill="#4a8cc7"/>
<circle cx="624.6" cy="1334.1" r="3.9" fill="#4a8cc7"/>
<circle cx="670.3" cy="1339.9" r="3.9" fill="#4a8cc7"/>
<circle cx="749.2" cy="1339" r="3.9" fill="#4a8cc7"/>
<circle cx="859.5" cy="1344.5" r="3.9" fill="#4a8cc7"/>
<circle cx="651.2" cy="1609.3" r="3.9" fill="#4a8cc7"/>
<path d="M642 1094 L655 1092 L668 1093 L676 1097 L680 1105 L682 1115 L684 1126 L681 1133 L670 1135 L658 1134 L648 1135 L641 1131 L639 1120 L637 1108 L639 1099 Z" fill="#bdbdbd" stroke="#bdbdbd" stroke-width="2" stroke-linejoin="round"/>
<circle cx="644.04" cy="1094.66" r="3.9" fill="#bdbdbd"/>
<circle cx="647.55" cy="1094.96" r="3.9" fill="#bdbdbd"/>
<circle cx="648.79" cy="1092.79" r="3.9" fill="#bdbdbd"/>
<circle cx="655.02" cy="1093.74" r="3.9" fill="#bdbdbd"/>
<circle cx="660.92" cy="1094.03" r="3.9" fill="#bdbdbd"/>
<circle cx="664.1" cy="1094.71" r="3.9" fill="#bdbdbd"/>
<circle cx="668.95" cy="1094.01" r="3.9" fill="#bdbdbd"/>
<circle cx="670.6" cy="1092.56" r="3.9" fill="#bdbdbd"/>
<circle cx="674.09" cy="1096.28" r="3.9" fill="#bdbdbd"/>
<circle cx="675.95" cy="1102.75" r="3.9" fill="#bdbdbd"/>
<circle cx="680.3" cy="1105.66" r="3.9" fill="#bdbdbd"/>
<circle cx="681.66" cy="1110.94" r="3.9" fill="#bdbdbd"/>
<circle cx="681.94" cy="1112.42" r="3.9" fill="#bdbdbd"/>
<circle cx="684.55" cy="1121.79" r="3.9" fill="#bdbdbd"/>
<circle cx="684.02" cy="1126.18" r="3.9" fill="#bdbdbd"/>
<circle cx="681.83" cy="1130.74" r="3.9" fill="#bdbdbd"/>
<circle cx="676.73" cy="1132.71" r="3.9" fill="#bdbdbd"/>
<circle cx="667.79" cy="1133.78" r="3.9" fill="#bdbdbd"/>
<circle cx="667.19" cy="1133.13" r="3.9" fill="#bdbdbd"/>
<circle cx="663.25" cy="1136.81" r="3.9" fill="#bdbdbd"/>
<circle cx="657.97" cy="1133.39" r="3.9" fill="#bdbdbd"/>
<circle cx="652.89" cy="1135.46" r="3.9" fill="#bdbdbd"/>
<circle cx="649.39" cy="1135.61" r="3.9" fill="#bdbdbd"/>
<circle cx="645.24" cy="1130.8" r="3.9" fill="#bdbdbd"/>
<circle cx="639.17" cy="1129.72" r="3.9" fill="#bdbdbd"/>
<circle cx="641.26" cy="1124.48" r="3.9" fill="#bdbdbd"/>
<circle cx="639.35" cy="1117.46" r="3.9" fill="#bdbdbd"/>
<circle cx="636.05" cy="1114.8" r="3.9" fill="#bdbdbd"/>
<circle cx="638.56" cy="1113" r="3.9" fill="#bdbdbd"/>
<circle cx="637.91" cy="1106.91" r="3.9" fill="#bdbdbd"/>
<circle cx="638.09" cy="1103.32" r="3.9" fill="#bdbdbd"/>
<circle cx="638.82" cy="1097.02" r="3.9" fill="#bdbdbd"/>
<circle cx="651.7" cy="1151" r="3.9" fill="#bdbdbd"/>
<circle cx="676" cy="1154.5" r="3.9" fill="#bdbdbd"/>
<circle cx="687.4" cy="1147.4" r="3.9" fill="#bdbdbd"/>
<circle cx="697" cy="1130.7" r="3.9" fill="#bdbdbd"/>
<circle cx="692" cy="1125" r="3.9" fill="#bdbdbd"/>
<circle cx="631.4" cy="1134.3" r="3.9" fill="#bdbdbd"/>
<circle cx="618.3" cy="1117.6" r="3.9" fill="#bdbdbd"/>
<circle cx="600.5" cy="1101" r="3.9" fill="#bdbdbd"/>
<circle cx="616" cy="1091.4" r="3.9" fill="#bdbdbd"/>
<circle cx="611.2" cy="1159.3" r="3.9" fill="#bdbdbd"/>
<circle cx="625" cy="1097" r="3.9" fill="#bdbdbd"/>
<circle cx="630" cy="1106" r="3.9" fill="#bdbdbd"/>
<circle cx="624" cy="1112" r="3.9" fill="#bdbdbd"/>
<circle cx="633" cy="1122" r="3.9" fill="#bdbdbd"/>
<circle cx="628" cy="1128" r="3.9" fill="#bdbdbd"/>
<circle cx="636" cy="1089" r="3.9" fill="#bdbdbd"/>
<circle cx="645" cy="1087" r="3.9" fill="#bdbdbd"/>
<circle cx="660" cy="1087" r="3.9" fill="#bdbdbd"/>
<circle cx="670" cy="1089" r="3.9" fill="#bdbdbd"/>
<circle cx="686" cy="1137" r="3.9" fill="#bdbdbd"/>
<circle cx="665" cy="1140" r="3.9" fill="#bdbdbd"/>
<circle cx="645" cy="1140" r="3.9" fill="#bdbdbd"/>
<circle cx="622" cy="1104" r="3.9" fill="#bdbdbd"/>
<circle cx="612" cy="1108" r="3.9" fill="#bdbdbd"/>
<circle cx="625" cy="1158" r="3.9" fill="#bdbdbd"/>
<circle cx="612" cy="1136" r="3.9" fill="#bdbdbd"/>
<line x1="258.5" y1="967.8" x2="277.7" y2="941.5" stroke="#000" stroke-width="1.5" stroke-linecap="butt"/>
<line x1="343.3" y1="1023" x2="360.7" y2="1002.2" stroke="#000" stroke-width="1.5" stroke-linecap="butt"/>
<line x1="510.3" y1="1037.2" x2="493.1" y2="1016.4" stroke="#000" stroke-width="1.5" stroke-linecap="butt"/>
<line x1="259.6" y1="1079.5" x2="286.1" y2="1136.7" stroke="#000" stroke-width="1.5" stroke-linecap="butt"/>
<line x1="398.7" y1="1076.8" x2="478.6" y2="1074.1" stroke="#000" stroke-width="1.5" stroke-linecap="butt"/>
<line x1="422.5" y1="1096" x2="381.8" y2="1212.9" stroke="#000" stroke-width="1.5" stroke-linecap="butt"/>
<line x1="550.8" y1="1054.7" x2="571.1" y2="1065.5" stroke="#000" stroke-width="1.5" stroke-linecap="butt"/>
<line x1="519.8" y1="1106.2" x2="536.7" y2="1126.6" stroke="#000" stroke-width="1.5" stroke-linecap="butt"/>
<line x1="465.9" y1="1174.9" x2="472.7" y2="1217.5" stroke="#000" stroke-width="1.5" stroke-linecap="butt"/>
<line x1="635" y1="924.6" x2="653.5" y2="922.3" stroke="#000" stroke-width="1.5" stroke-linecap="butt"/>
<line x1="709.4" y1="943.3" x2="723.7" y2="964.2" stroke="#000" stroke-width="1.5" stroke-linecap="butt"/>
<line x1="855.6" y1="1027" x2="868.9" y2="1006.7" stroke="#000" stroke-width="1.5" stroke-linecap="butt"/>
<line x1="891.1" y1="1080.2" x2="911.4" y2="1091.5" stroke="#000" stroke-width="1.5" stroke-linecap="butt"/>
<line x1="751.3" y1="1182.9" x2="767.3" y2="1203.9" stroke="#000" stroke-width="1.5" stroke-linecap="butt"/>
<line x1="715.3" y1="1266.1" x2="733.4" y2="1243.9" stroke="#000" stroke-width="1.5" stroke-linecap="butt"/>
<line x1="819.8" y1="1280.8" x2="836.8" y2="1261.1" stroke="#000" stroke-width="1.5" stroke-linecap="butt"/>
<line x1="622.4" y1="1341" x2="612.3" y2="1371.6" stroke="#000" stroke-width="1.5" stroke-linecap="butt"/>
<line x1="745.1" y1="1345" x2="727.3" y2="1366.1" stroke="#000" stroke-width="1.5" stroke-linecap="butt"/>
<line x1="863.4" y1="1351.1" x2="877" y2="1372.4" stroke="#000" stroke-width="1.5" stroke-linecap="butt"/>
<line x1="652.5" y1="1603" x2="659.6" y2="1571" stroke="#000" stroke-width="1.5" stroke-linecap="butt"/>
<text x="250.2" y="935.4" font-size="27.4" text-anchor="start" font-style="italic" fill="#000">RIPK1</text>
<text x="341.8" y="995.8" font-size="27.4" text-anchor="start" font-style="italic" fill="#000">CHUK</text>
<text x="433" y="1010.1" font-size="27.4" text-anchor="start" font-style="italic" fill="#000">TAOK1</text>
<text x="250.2" y="1163.2" font-size="27.4" text-anchor="start" font-style="italic" fill="#000">IKBKB</text>
<text x="309" y="1086.3" font-size="27.4" text-anchor="start" font-style="italic" fill="#000">IKBKG</text>
<text x="333.9" y="1239.4" font-size="27.4" text-anchor="start" font-style="italic" fill="#000">ABCE1</text>
<text x="480.9" y="1231.5" font-size="27.4" text-anchor="start" font-style="italic" fill="#000">CDKN1A</text>
<text x="497.9" y="1153.4" font-size="27.4" text-anchor="start" font-style="italic" fill="#000">LAMTOR3</text>
<text x="575.5" y="1077" font-size="27.4" text-anchor="start" font-style="italic" fill="#000">LATS2</text>
<text x="516.5" y="935" font-size="27.4" text-anchor="start" font-style="italic" fill="#000">NDUFC2</text>
<text x="691.6" y="990.2" font-size="27.4" text-anchor="start" font-style="italic" fill="#000">MTOR</text>
<text x="827.4" y="999.2" font-size="27.4" text-anchor="start" font-style="italic" fill="#000">AURKB</text>
<text x="805.9" y="1087.5" font-size="27.4" text-anchor="start" font-style="italic" fill="#000">IRAK4</text>
<text x="683" y="1175.6" font-size="27.4" text-anchor="start" font-style="italic" fill="#000">PPP1CB</text>
<text x="650.4" y="1292.1" font-size="27.4" text-anchor="start" font-style="italic" fill="#000">ACTR2</text>
<text x="818.8" y="1253" font-size="27.4" text-anchor="start" font-style="italic" fill="#000">MED1</text>
<text x="530" y="1387.5" font-size="27.4" text-anchor="start" font-style="italic" fill="#000">KIF1A</text>
<text x="661.4" y="1392.4" font-size="27.4" text-anchor="start" font-style="italic" fill="#000">ARPC3</text>
<text x="844.9" y="1398.5" font-size="27.4" text-anchor="start" font-style="italic" fill="#000">PI4KB</text>
<text x="666.9" y="1575.1" font-size="27.4" text-anchor="start" font-style="italic" fill="#000">AXL</text>
<rect x="222.5" y="888.3" width="726.3" height="754.6" fill="none" stroke="#000" stroke-width="2.2"/>
<rect x="237.6" y="1491.4" width="342.7" height="136.5" fill="#fff" stroke="#000" stroke-width="2.2"/>
<circle cx="269" cy="1533.6" r="7" fill="#3979bd"/>
<circle cx="269" cy="1582.4" r="7" fill="#a9a9a9"/>
<text x="297.6" y="1543.7" font-size="27.5" text-anchor="start" fill="#000">Gene knockdown</text>
<text x="297.6" y="1592.5" font-size="27.5" text-anchor="start" fill="#000">Non-targeting control</text>
<text x="580.2" y="864" font-size="27.5" text-anchor="middle" fill="#000">H1 library</text>
<line x1="269.6" y1="1642.9" x2="269.6" y2="1653.9" stroke="#333" stroke-width="3.6" stroke-linecap="butt"/>
<text x="269.6" y="1684.9" font-size="27.5" text-anchor="middle" fill="#000">−4</text>
<line x1="464.3" y1="1642.9" x2="464.3" y2="1653.9" stroke="#333" stroke-width="3.6" stroke-linecap="butt"/>
<text x="464.3" y="1684.9" font-size="27.5" text-anchor="middle" fill="#000">−2</text>
<line x1="658.6" y1="1642.9" x2="658.6" y2="1653.9" stroke="#333" stroke-width="3.6" stroke-linecap="butt"/>
<text x="658.6" y="1684.9" font-size="27.5" text-anchor="middle" fill="#000">0</text>
<line x1="853.6" y1="1642.9" x2="853.6" y2="1653.9" stroke="#333" stroke-width="3.6" stroke-linecap="butt"/>
<text x="853.6" y="1684.9" font-size="27.5" text-anchor="middle" fill="#000">2</text>
<line x1="211.5" y1="928.8" x2="222.5" y2="928.8" stroke="#333" stroke-width="3.6" stroke-linecap="butt"/>
<text x="201.5" y="938.5" font-size="27.5" text-anchor="end" fill="#000">2.5</text>
<line x1="211.5" y1="1116" x2="222.5" y2="1116" stroke="#333" stroke-width="3.6" stroke-linecap="butt"/>
<text x="201.5" y="1125.7" font-size="27.5" text-anchor="end" fill="#000">0.0</text>
<line x1="211.5" y1="1303.4" x2="222.5" y2="1303.4" stroke="#333" stroke-width="3.6" stroke-linecap="butt"/>
<text x="201.5" y="1313.1" font-size="27.5" text-anchor="end" fill="#000">−2.5</text>
<line x1="211.5" y1="1491.3" x2="222.5" y2="1491.3" stroke="#333" stroke-width="3.6" stroke-linecap="butt"/>
<text x="201.5" y="1501" font-size="27.5" text-anchor="end" fill="#000">−5.0</text>
<line x1="126.5" y1="902.1" x2="126.5" y2="1030.2" stroke="#000" stroke-width="2.5" stroke-linecap="butt"/>
<line x1="126.5" y1="1206.8" x2="126.5" y2="1639.5" stroke="#000" stroke-width="2.5" stroke-linecap="butt"/>
<path d="M126.5 888.1 L119 903.6 L134 903.6 Z" fill="#000"/>
<path d="M126.5 1653.5 L119 1638 L134 1638 Z" fill="#000"/>
<text x="112.4" y="965.9" font-size="27.5" text-anchor="middle" transform="rotate(-90 112.4 965.9)" fill="#000">More</text>
<text x="134" y="1117.2" font-size="27.5" text-anchor="middle" transform="rotate(-90 134 1117.2)" fill="#000">Phagocytosis</text>
<text x="112.4" y="1419" font-size="27.5" text-anchor="middle" transform="rotate(-90 112.4 1419)" fill="#000">Less</text>
<text x="52" y="1263.2" font-size="27.5" text-anchor="middle" transform="rotate(-90 52 1263.2)" fill="#000">Gene score (IL-1α+TNF+C1q)</text>
<line x1="250" y1="1709" x2="619" y2="1709" stroke="#000" stroke-width="2.5" stroke-linecap="butt"/>
<line x1="725" y1="1709" x2="944" y2="1709" stroke="#000" stroke-width="2.5" stroke-linecap="butt"/>
<path d="M236 1709 L252 1701.5 L252 1716.5 Z" fill="#000"/>
<path d="M958 1709 L942 1701.5 L942 1716.5 Z" fill="#000"/>
<text x="673.2" y="1719.3" font-size="27.5" text-anchor="middle" fill="#000">VCAM1</text>
<text x="411" y="1744.3" font-size="27.5" text-anchor="middle" fill="#000">Less</text>
<text x="851.8" y="1744.3" font-size="27.5" text-anchor="middle" fill="#000">More</text>
<text x="589.9" y="1793" font-size="27.5" text-anchor="middle" fill="#000">Gene score (IL-1α+TNF+C1q)</text>
<text x="5.6" y="895.5" font-size="49" text-anchor="start" font-weight="bold" fill="#000">b</text>
<line x1="1278.6" y1="1129.4" x2="2027.7" y2="1129.4" stroke="#000" stroke-width="1.8" stroke-linecap="butt" stroke-dasharray="6.4,5.3"/>
<line x1="1573.4" y1="888.3" x2="1573.4" y2="1642.9" stroke="#000" stroke-width="1.8" stroke-linecap="butt" stroke-dasharray="6.4,5.3"/>
<path d="M1578 1017 L1583 1018 L1580 1028 L1577 1036 L1578 1046 L1581 1054 L1578 1064 L1577 1078 L1590 1088 L1594 1100 L1596 1112 L1604 1118 L1604 1134 L1602 1148 L1594 1157 L1592 1170 L1587 1180 L1582 1188 L1579 1196 L1567 1196 L1564 1186 L1559 1176 L1556 1162 L1552 1142 L1550 1122 L1552 1106 L1557 1092 L1561 1082 L1563 1070 L1569 1060 L1570 1046 L1570 1032 L1573 1022 Z" fill="#4a8cc7" stroke="#4a8cc7" stroke-width="2" stroke-linejoin="round"/>
<circle cx="1580.05" cy="1015.44" r="3.9" fill="#4a8cc7"/>
<circle cx="1585.49" cy="1020.27" r="3.9" fill="#4a8cc7"/>
<circle cx="1578.99" cy="1022.79" r="3.9" fill="#4a8cc7"/>
<circle cx="1581.66" cy="1030.43" r="3.9" fill="#4a8cc7"/>
<circle cx="1578.24" cy="1030.8" r="3.9" fill="#4a8cc7"/>
<circle cx="1575.49" cy="1038.32" r="3.9" fill="#4a8cc7"/>
<circle cx="1576" cy="1041.42" r="3.9" fill="#4a8cc7"/>
<circle cx="1576.14" cy="1046.13" r="3.9" fill="#4a8cc7"/>
<circle cx="1581.85" cy="1048.09" r="3.9" fill="#4a8cc7"/>
<circle cx="1582.67" cy="1054.05" r="3.9" fill="#4a8cc7"/>
<circle cx="1581.51" cy="1060.06" r="3.9" fill="#4a8cc7"/>
<circle cx="1576.6" cy="1066.07" r="3.9" fill="#4a8cc7"/>
<circle cx="1577.59" cy="1066.2" r="3.9" fill="#4a8cc7"/>
<circle cx="1574.75" cy="1073.29" r="3.9" fill="#4a8cc7"/>
<circle cx="1576.74" cy="1076.97" r="3.9" fill="#4a8cc7"/>
<circle cx="1578.38" cy="1079.69" r="3.9" fill="#4a8cc7"/>
<circle cx="1582.54" cy="1084.77" r="3.9" fill="#4a8cc7"/>
<circle cx="1584.16" cy="1086.8" r="3.9" fill="#4a8cc7"/>
<circle cx="1591.76" cy="1086.02" r="3.9" fill="#4a8cc7"/>
<circle cx="1593.55" cy="1093.11" r="3.9" fill="#4a8cc7"/>
<circle cx="1594.75" cy="1094.91" r="3.9" fill="#4a8cc7"/>
<circle cx="1593.34" cy="1099.44" r="3.9" fill="#4a8cc7"/>
<circle cx="1597.26" cy="1104.46" r="3.9" fill="#4a8cc7"/>
<circle cx="1594.61" cy="1107.63" r="3.9" fill="#4a8cc7"/>
<circle cx="1594.83" cy="1109.65" r="3.9" fill="#4a8cc7"/>
<circle cx="1597.93" cy="1116.74" r="3.9" fill="#4a8cc7"/>
<circle cx="1602.89" cy="1120.27" r="3.9" fill="#4a8cc7"/>
<circle cx="1602.7" cy="1120.78" r="3.9" fill="#4a8cc7"/>
<circle cx="1604.06" cy="1124.39" r="3.9" fill="#4a8cc7"/>
<circle cx="1603.34" cy="1132.37" r="3.9" fill="#4a8cc7"/>
<circle cx="1606" cy="1135.62" r="3.9" fill="#4a8cc7"/>
<circle cx="1604.01" cy="1140.82" r="3.9" fill="#4a8cc7"/>
<circle cx="1604.96" cy="1143.59" r="3.9" fill="#4a8cc7"/>
<circle cx="1603.14" cy="1145.66" r="3.9" fill="#4a8cc7"/>
<circle cx="1600.54" cy="1150.74" r="3.9" fill="#4a8cc7"/>
<circle cx="1597.98" cy="1154.75" r="3.9" fill="#4a8cc7"/>
<circle cx="1592.89" cy="1154.65" r="3.9" fill="#4a8cc7"/>
<circle cx="1595.55" cy="1159.4" r="3.9" fill="#4a8cc7"/>
<circle cx="1592.52" cy="1164.85" r="3.9" fill="#4a8cc7"/>
<circle cx="1590.95" cy="1171.24" r="3.9" fill="#4a8cc7"/>
<circle cx="1591.98" cy="1173.75" r="3.9" fill="#4a8cc7"/>
<circle cx="1587.81" cy="1178.96" r="3.9" fill="#4a8cc7"/>
<circle cx="1584.8" cy="1183.45" r="3.9" fill="#4a8cc7"/>
<circle cx="1580.27" cy="1186.24" r="3.9" fill="#4a8cc7"/>
<circle cx="1578.98" cy="1194.11" r="3.9" fill="#4a8cc7"/>
<circle cx="1578.98" cy="1194.54" r="3.9" fill="#4a8cc7"/>
<circle cx="1577.11" cy="1198.58" r="3.9" fill="#4a8cc7"/>
<circle cx="1570.74" cy="1194.13" r="3.9" fill="#4a8cc7"/>
<circle cx="1565.4" cy="1193.87" r="3.9" fill="#4a8cc7"/>
<circle cx="1564.68" cy="1188.87" r="3.9" fill="#4a8cc7"/>
<circle cx="1562.64" cy="1184.74" r="3.9" fill="#4a8cc7"/>
<circle cx="1561.86" cy="1183.01" r="3.9" fill="#4a8cc7"/>
<circle cx="1560.3" cy="1175.55" r="3.9" fill="#4a8cc7"/>
<circle cx="1557.55" cy="1171.46" r="3.9" fill="#4a8cc7"/>
<circle cx="1556.36" cy="1165.83" r="3.9" fill="#4a8cc7"/>
<circle cx="1553.72" cy="1160.84" r="3.9" fill="#4a8cc7"/>
<circle cx="1557.63" cy="1156.05" r="3.9" fill="#4a8cc7"/>
<circle cx="1554.42" cy="1154.67" r="3.9" fill="#4a8cc7"/>
<circle cx="1555.49" cy="1148.52" r="3.9" fill="#4a8cc7"/>
<circle cx="1551.61" cy="1144.69" r="3.9" fill="#4a8cc7"/>
<circle cx="1551.48" cy="1141.72" r="3.9" fill="#4a8cc7"/>
<circle cx="1553.96" cy="1139.81" r="3.9" fill="#4a8cc7"/>
<circle cx="1553.14" cy="1131.51" r="3.9" fill="#4a8cc7"/>
<circle cx="1548.37" cy="1131.09" r="3.9" fill="#4a8cc7"/>
<circle cx="1552.46" cy="1125.86" r="3.9" fill="#4a8cc7"/>
<circle cx="1550.45" cy="1119.4" r="3.9" fill="#4a8cc7"/>
<circle cx="1549.94" cy="1120.22" r="3.9" fill="#4a8cc7"/>
<circle cx="1552.69" cy="1115.85" r="3.9" fill="#4a8cc7"/>
<circle cx="1553.96" cy="1108.69" r="3.9" fill="#4a8cc7"/>
<circle cx="1549.97" cy="1104.2" r="3.9" fill="#4a8cc7"/>
<circle cx="1553.78" cy="1102.28" r="3.9" fill="#4a8cc7"/>
<circle cx="1557.63" cy="1097.82" r="3.9" fill="#4a8cc7"/>
<circle cx="1557.77" cy="1093.38" r="3.9" fill="#4a8cc7"/>
<circle cx="1558.78" cy="1087.27" r="3.9" fill="#4a8cc7"/>
<circle cx="1558.61" cy="1083.47" r="3.9" fill="#4a8cc7"/>
<circle cx="1560.28" cy="1080.18" r="3.9" fill="#4a8cc7"/>
<circle cx="1563.09" cy="1072.98" r="3.9" fill="#4a8cc7"/>
<circle cx="1561.07" cy="1068.71" r="3.9" fill="#4a8cc7"/>
<circle cx="1566.71" cy="1066.03" r="3.9" fill="#4a8cc7"/>
<circle cx="1566.98" cy="1057.77" r="3.9" fill="#4a8cc7"/>
<circle cx="1569.46" cy="1055.76" r="3.9" fill="#4a8cc7"/>
<circle cx="1569.08" cy="1049.23" r="3.9" fill="#4a8cc7"/>
<circle cx="1570.53" cy="1043.45" r="3.9" fill="#4a8cc7"/>
<circle cx="1568.97" cy="1041.13" r="3.9" fill="#4a8cc7"/>
<circle cx="1572.39" cy="1037.42" r="3.9" fill="#4a8cc7"/>
<circle cx="1572" cy="1031.87" r="3.9" fill="#4a8cc7"/>
<circle cx="1570.12" cy="1025.68" r="3.9" fill="#4a8cc7"/>
<circle cx="1575.4" cy="1023.06" r="3.9" fill="#4a8cc7"/>
<circle cx="1578.69" cy="1136.3" r="3.9" fill="#4a8cc7"/>
<circle cx="1576.14" cy="1065.09" r="3.9" fill="#4a8cc7"/>
<circle cx="1580.15" cy="1106.21" r="3.9" fill="#4a8cc7"/>
<circle cx="1557.63" cy="1083.5" r="3.9" fill="#4a8cc7"/>
<circle cx="1579.65" cy="1141.91" r="3.9" fill="#4a8cc7"/>
<circle cx="1586.41" cy="1112.55" r="3.9" fill="#4a8cc7"/>
<circle cx="1568.21" cy="1126.34" r="3.9" fill="#4a8cc7"/>
<circle cx="1554.05" cy="1163.89" r="3.9" fill="#4a8cc7"/>
<circle cx="1575.77" cy="1106.13" r="3.9" fill="#4a8cc7"/>
<circle cx="1573.72" cy="1182.44" r="3.9" fill="#4a8cc7"/>
<circle cx="1566.82" cy="1155.42" r="3.9" fill="#4a8cc7"/>
<circle cx="1599.29" cy="1155.09" r="3.9" fill="#4a8cc7"/>
<circle cx="1602.36" cy="1105.68" r="3.9" fill="#4a8cc7"/>
<circle cx="1576.19" cy="1107.81" r="3.9" fill="#4a8cc7"/>
<circle cx="1590.34" cy="1148.67" r="3.9" fill="#4a8cc7"/>
<circle cx="1557.1" cy="1078.15" r="3.9" fill="#4a8cc7"/>
<circle cx="1587.14" cy="1170.3" r="3.9" fill="#4a8cc7"/>
<circle cx="1612.83" cy="1171.18" r="3.9" fill="#4a8cc7"/>
<circle cx="1579.55" cy="1150.25" r="3.9" fill="#4a8cc7"/>
<circle cx="1581.16" cy="1186.46" r="3.9" fill="#4a8cc7"/>
<circle cx="1558.66" cy="1223.18" r="3.9" fill="#4a8cc7"/>
<circle cx="1533.16" cy="1121.23" r="3.9" fill="#4a8cc7"/>
<circle cx="1570.79" cy="1180.62" r="3.9" fill="#4a8cc7"/>
<circle cx="1606.16" cy="1186.2" r="3.9" fill="#4a8cc7"/>
<circle cx="1572.44" cy="1139.7" r="3.9" fill="#4a8cc7"/>
<circle cx="1566.01" cy="1115.02" r="3.9" fill="#4a8cc7"/>
<circle cx="1583.27" cy="1108.48" r="3.9" fill="#4a8cc7"/>
<circle cx="1576.93" cy="1141.84" r="3.9" fill="#4a8cc7"/>
<circle cx="1588.14" cy="1131.34" r="3.9" fill="#4a8cc7"/>
<circle cx="1574.02" cy="1164.7" r="3.9" fill="#4a8cc7"/>
<circle cx="1573.88" cy="1173.24" r="3.9" fill="#4a8cc7"/>
<circle cx="1589.38" cy="1082.35" r="3.9" fill="#4a8cc7"/>
<circle cx="1562.6" cy="1163.26" r="3.9" fill="#4a8cc7"/>
<circle cx="1580.83" cy="1193.94" r="3.9" fill="#4a8cc7"/>
<circle cx="1590.49" cy="1061.78" r="3.9" fill="#4a8cc7"/>
<circle cx="1588.48" cy="1156.67" r="3.9" fill="#4a8cc7"/>
<circle cx="1573.91" cy="1149.89" r="3.9" fill="#4a8cc7"/>
<circle cx="1584.74" cy="1062.59" r="3.9" fill="#4a8cc7"/>
<circle cx="1571.99" cy="1141.51" r="3.9" fill="#4a8cc7"/>
<circle cx="1577.09" cy="1157.55" r="3.9" fill="#4a8cc7"/>
<circle cx="1570.81" cy="1173.78" r="3.9" fill="#4a8cc7"/>
<circle cx="1546.38" cy="1138.18" r="3.9" fill="#4a8cc7"/>
<circle cx="1584.27" cy="1118.83" r="3.9" fill="#4a8cc7"/>
<circle cx="1570.9" cy="1206.84" r="3.9" fill="#4a8cc7"/>
<circle cx="1597.37" cy="1133.93" r="3.9" fill="#4a8cc7"/>
<circle cx="1585.28" cy="1123.71" r="3.9" fill="#4a8cc7"/>
<circle cx="1576.56" cy="1223.92" r="3.9" fill="#4a8cc7"/>
<circle cx="1566.05" cy="1201.35" r="3.9" fill="#4a8cc7"/>
<circle cx="1574.92" cy="1150.38" r="3.9" fill="#4a8cc7"/>
<circle cx="1591.82" cy="1145.75" r="3.9" fill="#4a8cc7"/>
<circle cx="1581.77" cy="1111.24" r="3.9" fill="#4a8cc7"/>
<circle cx="1580.77" cy="1087.24" r="3.9" fill="#4a8cc7"/>
<circle cx="1572.11" cy="1168.6" r="3.9" fill="#4a8cc7"/>
<circle cx="1554.31" cy="1166.56" r="3.9" fill="#4a8cc7"/>
<circle cx="1554.37" cy="1177.99" r="3.9" fill="#4a8cc7"/>
<circle cx="1569.83" cy="1105.18" r="3.9" fill="#4a8cc7"/>
<circle cx="1586.59" cy="1119.94" r="3.9" fill="#4a8cc7"/>
<circle cx="1570.44" cy="1144.08" r="3.9" fill="#4a8cc7"/>
<circle cx="1598.14" cy="1167.17" r="3.9" fill="#4a8cc7"/>
<circle cx="1581.12" cy="1140.31" r="3.9" fill="#4a8cc7"/>
<circle cx="1579.75" cy="1201.98" r="3.9" fill="#4a8cc7"/>
<circle cx="1598.41" cy="1075.81" r="3.9" fill="#4a8cc7"/>
<circle cx="1581.77" cy="1138.04" r="3.9" fill="#4a8cc7"/>
<circle cx="1585.37" cy="1188.29" r="3.9" fill="#4a8cc7"/>
<circle cx="1562.44" cy="1126.39" r="3.9" fill="#4a8cc7"/>
<circle cx="1590.47" cy="1145.15" r="3.9" fill="#4a8cc7"/>
<circle cx="1566.28" cy="1085.52" r="3.9" fill="#4a8cc7"/>
<circle cx="1549.07" cy="1138.77" r="3.9" fill="#4a8cc7"/>
<circle cx="1570.36" cy="1126.99" r="3.9" fill="#4a8cc7"/>
<circle cx="1566.18" cy="1162.54" r="3.9" fill="#4a8cc7"/>
<circle cx="1571.93" cy="1095.89" r="3.9" fill="#4a8cc7"/>
<circle cx="1566.83" cy="1137.5" r="3.9" fill="#4a8cc7"/>
<circle cx="1586.5" cy="1140.61" r="3.9" fill="#4a8cc7"/>
<circle cx="1599.87" cy="1199.26" r="3.9" fill="#4a8cc7"/>
<circle cx="1571.49" cy="1100.83" r="3.9" fill="#4a8cc7"/>
<circle cx="1593.09" cy="1015.86" r="3.9" fill="#4a8cc7"/>
<circle cx="1575.63" cy="1103.76" r="3.9" fill="#4a8cc7"/>
<circle cx="1556.98" cy="1166.13" r="3.9" fill="#4a8cc7"/>
<circle cx="1575.63" cy="1163.2" r="3.9" fill="#4a8cc7"/>
<circle cx="1578.63" cy="1048.7" r="3.9" fill="#4a8cc7"/>
<circle cx="1549.85" cy="1199.73" r="3.9" fill="#4a8cc7"/>
<circle cx="1578.93" cy="1180.36" r="3.9" fill="#4a8cc7"/>
<circle cx="1582.18" cy="1163.74" r="3.9" fill="#4a8cc7"/>
<circle cx="1572.87" cy="1205.2" r="3.9" fill="#4a8cc7"/>
<circle cx="1570.26" cy="1183.68" r="3.9" fill="#4a8cc7"/>
<circle cx="1564.6" cy="1176.4" r="3.9" fill="#4a8cc7"/>
<circle cx="1599.45" cy="1134.58" r="3.9" fill="#4a8cc7"/>
<circle cx="1573.78" cy="1162.28" r="3.9" fill="#4a8cc7"/>
<circle cx="1568.71" cy="1082.76" r="3.9" fill="#4a8cc7"/>
<circle cx="1589.15" cy="1149.68" r="3.9" fill="#4a8cc7"/>
<circle cx="1583.34" cy="1161.3" r="3.9" fill="#4a8cc7"/>
<circle cx="1594.69" cy="1137.91" r="3.9" fill="#4a8cc7"/>
<circle cx="1569.2" cy="1120.46" r="3.9" fill="#4a8cc7"/>
<circle cx="1576.89" cy="1184.4" r="3.9" fill="#4a8cc7"/>
<circle cx="1568.6" cy="1126.07" r="3.9" fill="#4a8cc7"/>
<circle cx="1584.06" cy="1127.16" r="3.9" fill="#4a8cc7"/>
<circle cx="1559.07" cy="1157.69" r="3.9" fill="#4a8cc7"/>
<circle cx="1578.51" cy="1161.32" r="3.9" fill="#4a8cc7"/>
<circle cx="1583.6" cy="1089.99" r="3.9" fill="#4a8cc7"/>
<circle cx="1571.7" cy="1125.98" r="3.9" fill="#4a8cc7"/>
<circle cx="1594.49" cy="1179.79" r="3.9" fill="#4a8cc7"/>
<circle cx="1580.88" cy="1105.57" r="3.9" fill="#4a8cc7"/>
<circle cx="1599.95" cy="1096.2" r="3.9" fill="#4a8cc7"/>
<circle cx="1590.27" cy="1115.31" r="3.9" fill="#4a8cc7"/>
<circle cx="1585.17" cy="1107.63" r="3.9" fill="#4a8cc7"/>
<circle cx="1582.1" cy="1118.28" r="3.9" fill="#4a8cc7"/>
<circle cx="1566.9" cy="1135.36" r="3.9" fill="#4a8cc7"/>
<circle cx="1583.69" cy="1057.78" r="3.9" fill="#4a8cc7"/>
<circle cx="1586.36" cy="1053.92" r="3.9" fill="#4a8cc7"/>
<circle cx="1577.68" cy="1111.11" r="3.9" fill="#4a8cc7"/>
<circle cx="1577.65" cy="1203.05" r="3.9" fill="#4a8cc7"/>
<circle cx="1560.74" cy="1070.45" r="3.9" fill="#4a8cc7"/>
<circle cx="1586.37" cy="1199.13" r="3.9" fill="#4a8cc7"/>
<circle cx="1585.11" cy="1099.21" r="3.9" fill="#4a8cc7"/>
<circle cx="1585.07" cy="1164.83" r="3.9" fill="#4a8cc7"/>
<circle cx="1573.28" cy="1027.05" r="3.9" fill="#4a8cc7"/>
<circle cx="1586.27" cy="1185.02" r="3.9" fill="#4a8cc7"/>
<circle cx="1541.6" cy="1184.07" r="3.9" fill="#4a8cc7"/>
<circle cx="1582.89" cy="1148.45" r="3.9" fill="#4a8cc7"/>
<circle cx="1576.45" cy="1123.54" r="3.9" fill="#4a8cc7"/>
<circle cx="1569.79" cy="1184.3" r="3.9" fill="#4a8cc7"/>
<circle cx="1564.97" cy="1197.36" r="3.9" fill="#4a8cc7"/>
<circle cx="1568.62" cy="1153.34" r="3.9" fill="#4a8cc7"/>
<circle cx="1566.33" cy="1147.91" r="3.9" fill="#4a8cc7"/>
<circle cx="1585.84" cy="1060.14" r="3.9" fill="#4a8cc7"/>
<circle cx="1311.9" cy="921.4" r="3.9" fill="#4a8cc7"/>
<circle cx="1522.9" cy="947.9" r="3.9" fill="#4a8cc7"/>
<circle cx="1471.4" cy="984.1" r="3.9" fill="#4a8cc7"/>
<circle cx="1487.9" cy="1025.9" r="3.9" fill="#4a8cc7"/>
<circle cx="1461.6" cy="1053.1" r="3.9" fill="#4a8cc7"/>
<circle cx="1540.4" cy="989.3" r="3.9" fill="#4a8cc7"/>
<circle cx="1541" cy="997.2" r="3.9" fill="#4a8cc7"/>
<circle cx="1560.7" cy="993.1" r="3.9" fill="#4a8cc7"/>
<circle cx="1570.2" cy="976.8" r="3.9" fill="#4a8cc7"/>
<circle cx="1579.3" cy="975" r="3.9" fill="#4a8cc7"/>
<circle cx="1573.2" cy="997.6" r="3.9" fill="#4a8cc7"/>
<circle cx="1573.2" cy="1002" r="3.9" fill="#4a8cc7"/>
<circle cx="1567" cy="1011.9" r="3.9" fill="#4a8cc7"/>
<circle cx="1582.2" cy="1018" r="3.9" fill="#4a8cc7"/>
<circle cx="1643.8" cy="1048.6" r="3.9" fill="#4a8cc7"/>
<circle cx="1549.9" cy="1042.9" r="3.9" fill="#4a8cc7"/>
<circle cx="1555" cy="1046" r="3.9" fill="#4a8cc7"/>
<circle cx="1560" cy="1050" r="3.9" fill="#4a8cc7"/>
<circle cx="1536.3" cy="1070" r="3.9" fill="#4a8cc7"/>
<circle cx="1548" cy="1071" r="3.9" fill="#4a8cc7"/>
<circle cx="1604.4" cy="1066.2" r="3.9" fill="#4a8cc7"/>
<circle cx="1596" cy="1073" r="3.9" fill="#4a8cc7"/>
<circle cx="1600" cy="1073" r="3.9" fill="#4a8cc7"/>
<circle cx="1606.4" cy="1080.9" r="3.9" fill="#4a8cc7"/>
<circle cx="1607.5" cy="1110.3" r="3.9" fill="#4a8cc7"/>
<circle cx="1619.5" cy="1113.7" r="3.9" fill="#4a8cc7"/>
<circle cx="1631.3" cy="1124.3" r="3.9" fill="#4a8cc7"/>
<circle cx="1505.3" cy="1117.6" r="3.9" fill="#4a8cc7"/>
<circle cx="1508.7" cy="1125.5" r="3.9" fill="#4a8cc7"/>
<circle cx="1404.6" cy="1127.4" r="3.9" fill="#4a8cc7"/>
<circle cx="1476.3" cy="1129.9" r="3.9" fill="#4a8cc7"/>
<circle cx="1784.8" cy="965" r="3.9" fill="#4a8cc7"/>
<circle cx="1644" cy="1049" r="3.9" fill="#4a8cc7"/>
<circle cx="1731.7" cy="1124.8" r="3.9" fill="#4a8cc7"/>
<circle cx="1994.3" cy="1145.1" r="3.9" fill="#4a8cc7"/>
<circle cx="1792" cy="1189.1" r="3.9" fill="#4a8cc7"/>
<circle cx="1637.7" cy="1280" r="3.9" fill="#4a8cc7"/>
<circle cx="1670" cy="1312.3" r="3.9" fill="#4a8cc7"/>
<circle cx="1656.6" cy="1130" r="3.9" fill="#4a8cc7"/>
<circle cx="1658.6" cy="1138.6" r="3.9" fill="#4a8cc7"/>
<circle cx="1630.9" cy="1125.1" r="3.9" fill="#4a8cc7"/>
<circle cx="1616.6" cy="1128.6" r="3.9" fill="#4a8cc7"/>
<circle cx="1619.1" cy="1113.7" r="3.9" fill="#4a8cc7"/>
<circle cx="1607.1" cy="1110" r="3.9" fill="#4a8cc7"/>
<circle cx="1633.7" cy="1150.9" r="3.9" fill="#4a8cc7"/>
<circle cx="1629" cy="1155" r="3.9" fill="#4a8cc7"/>
<circle cx="1601.4" cy="1157.1" r="3.9" fill="#4a8cc7"/>
<circle cx="1598.6" cy="1274.9" r="3.9" fill="#4a8cc7"/>
<circle cx="1566.3" cy="1265.1" r="3.9" fill="#4a8cc7"/>
<circle cx="1575.7" cy="1322.9" r="3.9" fill="#4a8cc7"/>
<circle cx="1578.4" cy="1327.9" r="3.9" fill="#4a8cc7"/>
<circle cx="1573" cy="1318" r="3.9" fill="#4a8cc7"/>
<circle cx="1505.3" cy="1117.9" r="3.9" fill="#4a8cc7"/>
<circle cx="1508" cy="1127" r="3.9" fill="#4a8cc7"/>
<circle cx="1538.1" cy="1148.9" r="3.9" fill="#4a8cc7"/>
<circle cx="1554.6" cy="1201.6" r="3.9" fill="#4a8cc7"/>
<circle cx="1551.2" cy="1215.2" r="3.9" fill="#4a8cc7"/>
<circle cx="1545.6" cy="1221.5" r="3.9" fill="#4a8cc7"/>
<circle cx="1557.8" cy="1225.4" r="3.9" fill="#4a8cc7"/>
<circle cx="1503" cy="1241.2" r="3.9" fill="#4a8cc7"/>
<circle cx="1506.4" cy="1239" r="3.9" fill="#4a8cc7"/>
<circle cx="1536.5" cy="1257.1" r="3.9" fill="#4a8cc7"/>
<circle cx="1566.4" cy="1265.7" r="3.9" fill="#4a8cc7"/>
<circle cx="1599.2" cy="1274.7" r="3.9" fill="#4a8cc7"/>
<circle cx="1542.6" cy="1307.5" r="3.9" fill="#4a8cc7"/>
<circle cx="1604.4" cy="1208.4" r="3.9" fill="#4a8cc7"/>
<circle cx="1597.6" cy="1215.2" r="3.9" fill="#4a8cc7"/>
<circle cx="1601" cy="1197.1" r="3.9" fill="#4a8cc7"/>
<circle cx="1590" cy="1193" r="3.9" fill="#4a8cc7"/>
<circle cx="1587.4" cy="1209.5" r="3.9" fill="#4a8cc7"/>
<circle cx="1573" cy="1268" r="3.9" fill="#4a8cc7"/>
<circle cx="1574" cy="1274" r="3.9" fill="#4a8cc7"/>
<circle cx="1575" cy="1280" r="3.9" fill="#4a8cc7"/>
<circle cx="1576" cy="1286" r="3.9" fill="#4a8cc7"/>
<circle cx="1574" cy="1292" r="3.9" fill="#4a8cc7"/>
<circle cx="1580" cy="1270" r="3.9" fill="#4a8cc7"/>
<circle cx="1480.9" cy="1259.8" r="3.9" fill="#4a8cc7"/>
<circle cx="1620" cy="1502.9" r="3.9" fill="#4a8cc7"/>
<circle cx="1363.7" cy="1609.4" r="3.9" fill="#4a8cc7"/>
<circle cx="1424.3" cy="1596.3" r="3.9" fill="#4a8cc7"/>
<path d="M1556 1096 L1563 1091 L1572 1094 L1581 1092 L1586 1100 L1585 1110 L1589 1125 L1588 1140 L1585 1151 L1577 1158 L1567 1157 L1559 1151 L1553 1138 L1551 1124 L1544 1117 L1534 1115 L1524 1111 L1520 1106 L1526 1102 L1537 1103 L1548 1104 Z" fill="#bdbdbd" stroke="#bdbdbd" stroke-width="2" stroke-linejoin="round"/>
<circle cx="1557.71" cy="1094.35" r="3.9" fill="#bdbdbd"/>
<circle cx="1558.03" cy="1092.98" r="3.9" fill="#bdbdbd"/>
<circle cx="1563.09" cy="1090.39" r="3.9" fill="#bdbdbd"/>
<circle cx="1565.54" cy="1091.18" r="3.9" fill="#bdbdbd"/>
<circle cx="1573.17" cy="1096.07" r="3.9" fill="#bdbdbd"/>
<circle cx="1574.11" cy="1093.32" r="3.9" fill="#bdbdbd"/>
<circle cx="1582.34" cy="1089.6" r="3.9" fill="#bdbdbd"/>
<circle cx="1585.26" cy="1094.01" r="3.9" fill="#bdbdbd"/>
<circle cx="1586.52" cy="1100.26" r="3.9" fill="#bdbdbd"/>
<circle cx="1586.16" cy="1103.99" r="3.9" fill="#bdbdbd"/>
<circle cx="1584.58" cy="1110.43" r="3.9" fill="#bdbdbd"/>
<circle cx="1585.95" cy="1115.83" r="3.9" fill="#bdbdbd"/>
<circle cx="1587.39" cy="1119.68" r="3.9" fill="#bdbdbd"/>
<circle cx="1586.52" cy="1125.62" r="3.9" fill="#bdbdbd"/>
<circle cx="1588.61" cy="1128.62" r="3.9" fill="#bdbdbd"/>
<circle cx="1589.7" cy="1136.46" r="3.9" fill="#bdbdbd"/>
<circle cx="1587.78" cy="1138.33" r="3.9" fill="#bdbdbd"/>
<circle cx="1586.36" cy="1143.46" r="3.9" fill="#bdbdbd"/>
<circle cx="1583.07" cy="1150.64" r="3.9" fill="#bdbdbd"/>
<circle cx="1578.88" cy="1154.2" r="3.9" fill="#bdbdbd"/>
<circle cx="1577.05" cy="1155.61" r="3.9" fill="#bdbdbd"/>
<circle cx="1572.71" cy="1155.33" r="3.9" fill="#bdbdbd"/>
<circle cx="1568.21" cy="1158.44" r="3.9" fill="#bdbdbd"/>
<circle cx="1563.06" cy="1151.68" r="3.9" fill="#bdbdbd"/>
<circle cx="1559.02" cy="1150.36" r="3.9" fill="#bdbdbd"/>
<circle cx="1559.34" cy="1144.77" r="3.9" fill="#bdbdbd"/>
<circle cx="1556.86" cy="1144.91" r="3.9" fill="#bdbdbd"/>
<circle cx="1554.21" cy="1139.64" r="3.9" fill="#bdbdbd"/>
<circle cx="1550.74" cy="1135.84" r="3.9" fill="#bdbdbd"/>
<circle cx="1551.62" cy="1131.04" r="3.9" fill="#bdbdbd"/>
<circle cx="1553.16" cy="1122.26" r="3.9" fill="#bdbdbd"/>
<circle cx="1549" cy="1122.74" r="3.9" fill="#bdbdbd"/>
<circle cx="1541.74" cy="1116.22" r="3.9" fill="#bdbdbd"/>
<circle cx="1540.33" cy="1114.23" r="3.9" fill="#bdbdbd"/>
<circle cx="1536.06" cy="1113.83" r="3.9" fill="#bdbdbd"/>
<circle cx="1530.64" cy="1111.15" r="3.9" fill="#bdbdbd"/>
<circle cx="1524.01" cy="1113.18" r="3.9" fill="#bdbdbd"/>
<circle cx="1518.48" cy="1104.77" r="3.9" fill="#bdbdbd"/>
<circle cx="1526.03" cy="1101.06" r="3.9" fill="#bdbdbd"/>
<circle cx="1529.09" cy="1100.85" r="3.9" fill="#bdbdbd"/>
<circle cx="1535.24" cy="1105.27" r="3.9" fill="#bdbdbd"/>
<circle cx="1543.43" cy="1105.56" r="3.9" fill="#bdbdbd"/>
<circle cx="1546.28" cy="1105.48" r="3.9" fill="#bdbdbd"/>
<circle cx="1550" cy="1100.16" r="3.9" fill="#bdbdbd"/>
<circle cx="1457.3" cy="1027.5" r="3.9" fill="#bdbdbd"/>
<circle cx="1552.8" cy="1191.4" r="3.9" fill="#bdbdbd"/>
<circle cx="1583" cy="1193" r="3.9" fill="#bdbdbd"/>
<circle cx="1568" cy="1186" r="3.9" fill="#bdbdbd"/>
<line x1="1315.9" y1="927.1" x2="1331.1" y2="947.4" stroke="#000" stroke-width="1.5" stroke-linecap="butt"/>
<line x1="1497.4" y1="928.6" x2="1518.2" y2="944.5" stroke="#000" stroke-width="1.5" stroke-linecap="butt"/>
<line x1="1467.5" y1="990.2" x2="1442" y2="1024.3" stroke="#000" stroke-width="1.5" stroke-linecap="butt"/>
<line x1="1466.4" y1="1058.7" x2="1487.9" y2="1082.5" stroke="#000" stroke-width="1.5" stroke-linecap="butt"/>
<line x1="1546.5" y1="992.4" x2="1566.4" y2="1002.9" stroke="#000" stroke-width="1.5" stroke-linecap="butt"/>
<line x1="1788.8" y1="959.8" x2="1810.2" y2="930" stroke="#000" stroke-width="1.5" stroke-linecap="butt"/>
<line x1="1648.8" y1="1054.5" x2="1670.2" y2="1077.1" stroke="#000" stroke-width="1.5" stroke-linecap="butt"/>
<line x1="1971.4" y1="1117.7" x2="1990" y2="1140" stroke="#000" stroke-width="1.5" stroke-linecap="butt"/>
<line x1="1727.1" y1="1131.4" x2="1707.7" y2="1161.4" stroke="#000" stroke-width="1.5" stroke-linecap="butt"/>
<line x1="1400.1" y1="1133.3" x2="1383.1" y2="1153.4" stroke="#000" stroke-width="1.5" stroke-linecap="butt"/>
<line x1="1480.9" y1="1136" x2="1496.7" y2="1156.4" stroke="#000" stroke-width="1.5" stroke-linecap="butt"/>
<line x1="1796.6" y1="1195.1" x2="1814.3" y2="1215.1" stroke="#000" stroke-width="1.5" stroke-linecap="butt"/>
<line x1="1455.5" y1="1250.7" x2="1474.8" y2="1257.5" stroke="#000" stroke-width="1.5" stroke-linecap="butt"/>
<line x1="1634.9" y1="1250" x2="1637.1" y2="1272.9" stroke="#000" stroke-width="1.5" stroke-linecap="butt"/>
<line x1="1670.6" y1="1319.4" x2="1671.4" y2="1350" stroke="#000" stroke-width="1.5" stroke-linecap="butt"/>
<line x1="1624.3" y1="1497.1" x2="1642.9" y2="1476.3" stroke="#000" stroke-width="1.5" stroke-linecap="butt"/>
<line x1="1362" y1="1602.9" x2="1355.7" y2="1581.4" stroke="#000" stroke-width="1.5" stroke-linecap="butt"/>
<text x="1306.5" y="973.4" font-size="27.4" text-anchor="start" font-style="italic" fill="#000">RELA</text>
<text x="1422.3" y="935" font-size="27.4" text-anchor="start" font-style="italic" fill="#000">ETS1</text>
<text x="1376" y="1038.4" font-size="27.4" text-anchor="start" font-style="italic" fill="#000">IRF1</text>
<text x="1495.9" y="1096.7" font-size="27.4" text-anchor="start" font-style="italic" fill="#000">REL</text>
<text x="1572.8" y="1014.6" font-size="27.4" text-anchor="start" font-style="italic" fill="#000">BBX</text>
<text x="1817.5" y="935.2" font-size="27.4" text-anchor="start" font-style="italic" fill="#000">STAT3</text>
<text x="1677.1" y="1091.4" font-size="27.4" text-anchor="start" font-style="italic" fill="#000">FOXK1</text>
<text x="1908.3" y="1110.2" font-size="27.4" text-anchor="start" font-style="italic" fill="#000">NFKB2</text>
<text x="1317.8" y="1179" font-size="27.4" text-anchor="start" font-style="italic" fill="#000">NFKB1</text>
<text x="1473.3" y="1182.4" font-size="27.4" text-anchor="start" font-style="italic" fill="#000">RELB</text>
<text x="1607.1" y="1176.6" font-size="27.4" text-anchor="start" font-style="italic" fill="#000">CEBPD</text>
<text x="1789.4" y="1241.4" font-size="27.4" text-anchor="start" font-style="italic" fill="#000">CEBPB</text>
<text x="1359" y="1259.3" font-size="27.4" text-anchor="start" font-style="italic" fill="#000">FOXC2</text>
<text x="1528.2" y="1251.4" font-size="27.4" text-anchor="start" font-style="italic" fill="#000">ZNF827</text>
<text x="1678.5" y="1365.7" font-size="27.4" text-anchor="start" font-style="italic" fill="#000">SOX2</text>
<text x="1613.6" y="1469.1" font-size="27.4" text-anchor="start" font-style="italic" fill="#000">ZNF207</text>
<text x="1305.1" y="1574.3" font-size="27.4" text-anchor="start" font-style="italic" fill="#000">ZNF830</text>
<rect x="1278.6" y="888.3" width="749.1" height="754.6" fill="none" stroke="#000" stroke-width="2.2"/>
<rect x="1668.6" y="1491.4" width="343.1" height="136.5" fill="#fff" stroke="#000" stroke-width="2.2"/>
<circle cx="1700" cy="1533.4" r="7" fill="#3979bd"/>
<circle cx="1700" cy="1582" r="7" fill="#a9a9a9"/>
<text x="1728.9" y="1543.7" font-size="27.5" text-anchor="start" fill="#000">Gene knockdown</text>
<text x="1728.9" y="1592.5" font-size="27.5" text-anchor="start" fill="#000">Non-targeting control</text>
<text x="1655.7" y="864" font-size="27.5" text-anchor="middle" fill="#000">Transcription factor library</text>
<line x1="1351.2" y1="1642.9" x2="1351.2" y2="1653.9" stroke="#333" stroke-width="3.6" stroke-linecap="butt"/>
<text x="1351.2" y="1684.9" font-size="27.5" text-anchor="middle" fill="#000">−5</text>
<line x1="1573.4" y1="1642.9" x2="1573.4" y2="1653.9" stroke="#333" stroke-width="3.6" stroke-linecap="butt"/>
<text x="1573.4" y="1684.9" font-size="27.5" text-anchor="middle" fill="#000">0</text>
<line x1="1795" y1="1642.9" x2="1795" y2="1653.9" stroke="#333" stroke-width="3.6" stroke-linecap="butt"/>
<text x="1795" y="1684.9" font-size="27.5" text-anchor="middle" fill="#000">5</text>
<line x1="2017" y1="1642.9" x2="2017" y2="1653.9" stroke="#333" stroke-width="3.6" stroke-linecap="butt"/>
<text x="2017" y="1684.9" font-size="27.5" text-anchor="middle" fill="#000">10</text>
<line x1="1267.6" y1="898.6" x2="1278.6" y2="898.6" stroke="#333" stroke-width="3.6" stroke-linecap="butt"/>
<text x="1257.6" y="908.3" font-size="27.5" text-anchor="end" fill="#000">2</text>
<line x1="1267.6" y1="1129.4" x2="1278.6" y2="1129.4" stroke="#333" stroke-width="3.6" stroke-linecap="butt"/>
<text x="1257.6" y="1139.1" font-size="27.5" text-anchor="end" fill="#000">0</text>
<line x1="1267.6" y1="1359.9" x2="1278.6" y2="1359.9" stroke="#333" stroke-width="3.6" stroke-linecap="butt"/>
<text x="1257.6" y="1369.6" font-size="27.5" text-anchor="end" fill="#000">−2</text>
<line x1="1267.6" y1="1590" x2="1278.6" y2="1590" stroke="#333" stroke-width="3.6" stroke-linecap="butt"/>
<text x="1257.6" y="1599.7" font-size="27.5" text-anchor="end" fill="#000">−4</text>
<line x1="1202.4" y1="908.2" x2="1202.4" y2="1043.7" stroke="#000" stroke-width="2.5" stroke-linecap="butt"/>
<line x1="1202.4" y1="1220.3" x2="1202.4" y2="1639.5" stroke="#000" stroke-width="2.5" stroke-linecap="butt"/>
<path d="M1202.4 894.2 L1194.9 909.7 L1209.9 909.7 Z" fill="#000"/>
<path d="M1202.4 1653.5 L1194.9 1638 L1209.9 1638 Z" fill="#000"/>
<text x="1189" y="956" font-size="27.5" text-anchor="middle" transform="rotate(-90 1189 956)" fill="#000">More</text>
<text x="1209.9" y="1130.5" font-size="27.5" text-anchor="middle" transform="rotate(-90 1209.9 1130.5)" fill="#000">Phagocytosis</text>
<text x="1189" y="1420.7" font-size="27.5" text-anchor="middle" transform="rotate(-90 1189 1420.7)" fill="#000">Less</text>
<text x="1129.5" y="1264.1" font-size="27.5" text-anchor="middle" transform="rotate(-90 1129.5 1264.1)" fill="#000">Gene score (IL-1α+TNF+C1q)</text>
<line x1="1314.4" y1="1709" x2="1525.4" y2="1709" stroke="#000" stroke-width="2.5" stroke-linecap="butt"/>
<line x1="1644.4" y1="1709" x2="2011.4" y2="1709" stroke="#000" stroke-width="2.5" stroke-linecap="butt"/>
<path d="M1300.4 1709 L1316.4 1701.5 L1316.4 1716.5 Z" fill="#000"/>
<path d="M2025.4 1709 L2009.4 1701.5 L2009.4 1716.5 Z" fill="#000"/>
<text x="1587.9" y="1719.3" font-size="27.5" text-anchor="middle" fill="#000">VCAM1</text>
<text x="1417.9" y="1744.3" font-size="27.5" text-anchor="middle" fill="#000">Less</text>
<text x="1825.4" y="1744.3" font-size="27.5" text-anchor="middle" fill="#000">More</text>
<text x="1655.1" y="1793" font-size="27.5" text-anchor="middle" fill="#000">Gene score (IL-1α+TNF+C1q)</text>
<rect x="139.6" y="2333.75" width="51.3" height="177.85" fill="#696969" stroke="none" stroke-width="1.4"/>
<rect x="190.9" y="2355" width="51.5" height="156.6" fill="#8b0000" stroke="none" stroke-width="1.4"/>
<rect x="254.22" y="2330.5" width="51.3" height="181.1" fill="#696969" stroke="none" stroke-width="1.4"/>
<rect x="305.52" y="2378.75" width="51.5" height="132.85" fill="#8b0000" stroke="none" stroke-width="1.4"/>
<rect x="368.84" y="2276.25" width="51.3" height="235.35" fill="#696969" stroke="none" stroke-width="1.4"/>
<rect x="420.14" y="2204.5" width="51.5" height="307.1" fill="#8b0000" stroke="none" stroke-width="1.4"/>
<rect x="483.46" y="2315.5" width="51.3" height="196.1" fill="#696969" stroke="none" stroke-width="1.4"/>
<rect x="534.76" y="2342.7" width="51.5" height="168.9" fill="#8b0000" stroke="none" stroke-width="1.4"/>
<rect x="598.08" y="2325.4" width="51.3" height="186.2" fill="#696969" stroke="none" stroke-width="1.4"/>
<rect x="649.38" y="2317.3" width="51.5" height="194.3" fill="#8b0000" stroke="none" stroke-width="1.4"/>
<rect x="712.7" y="2335.1" width="51.3" height="176.5" fill="#696969" stroke="none" stroke-width="1.4"/>
<rect x="764" y="2353.1" width="51.5" height="158.5" fill="#8b0000" stroke="none" stroke-width="1.4"/>
<rect x="827.32" y="2343.7" width="51.3" height="167.9" fill="#696969" stroke="none" stroke-width="1.4"/>
<rect x="878.62" y="2376.7" width="51.5" height="134.9" fill="#8b0000" stroke="none" stroke-width="1.4"/>
<line x1="122.9" y1="2332.3" x2="946.5" y2="2332.3" stroke="#000" stroke-width="2" stroke-linecap="butt" stroke-dasharray="7.7,6"/>
<line x1="122.9" y1="2355.5" x2="946.5" y2="2355.5" stroke="#000" stroke-width="2" stroke-linecap="butt" stroke-dasharray="7.7,6"/>
<circle cx="160" cy="2317.5" r="6.8" fill="#000"/>
<circle cx="170" cy="2325" r="6.8" fill="#000"/>
<circle cx="166" cy="2337" r="6.8" fill="#000"/>
<circle cx="166" cy="2345" r="6.8" fill="#000"/>
<circle cx="167" cy="2352" r="6.8" fill="#000"/>
<circle cx="165" cy="2341" r="6.8" fill="#000"/>
<circle cx="220" cy="2346.25" r="6.8" fill="#000"/>
<circle cx="212.5" cy="2352.5" r="6.8" fill="#000"/>
<circle cx="215" cy="2361" r="6.8" fill="#000"/>
<circle cx="221" cy="2349" r="6.8" fill="#000"/>
<circle cx="210" cy="2358" r="6.8" fill="#000"/>
<circle cx="218" cy="2355" r="6.8" fill="#000"/>
<circle cx="213" cy="2362" r="6.8" fill="#000"/>
<circle cx="272.5" cy="2327" r="6.8" fill="#000"/>
<circle cx="280" cy="2331.25" r="6.8" fill="#000"/>
<circle cx="277" cy="2329" r="6.8" fill="#000"/>
<circle cx="333.75" cy="2376.25" r="6.8" fill="#000"/>
<circle cx="337.5" cy="2378.75" r="6.8" fill="#000"/>
<circle cx="335" cy="2377" r="6.8" fill="#000"/>
<circle cx="393.75" cy="2271.25" r="6.8" fill="#000"/>
<circle cx="400.5" cy="2263.75" r="6.8" fill="#000"/>
<circle cx="396.75" cy="2292" r="6.8" fill="#000"/>
<circle cx="440.5" cy="2195" r="6.8" fill="#000"/>
<circle cx="449.5" cy="2188.75" r="6.8" fill="#000"/>
<circle cx="442.5" cy="2227" r="6.8" fill="#000"/>
<circle cx="502.5" cy="2302.5" r="6.8" fill="#000"/>
<circle cx="508.75" cy="2318.75" r="6.8" fill="#000"/>
<circle cx="511.25" cy="2325" r="6.8" fill="#000"/>
<circle cx="555.4" cy="2343.5" r="6.8" fill="#000"/>
<circle cx="560.6" cy="2341.6" r="6.8" fill="#000"/>
<circle cx="565.8" cy="2340.3" r="6.8" fill="#000"/>
<circle cx="630" cy="2315.4" r="6.8" fill="#000"/>
<circle cx="628.7" cy="2324.3" r="6.8" fill="#000"/>
<circle cx="618.2" cy="2335.1" r="6.8" fill="#000"/>
<circle cx="673.2" cy="2310.2" r="6.8" fill="#000"/>
<circle cx="673.2" cy="2318" r="6.8" fill="#000"/>
<circle cx="671.4" cy="2322.5" r="6.8" fill="#000"/>
<circle cx="742.6" cy="2323" r="6.8" fill="#000"/>
<circle cx="731.4" cy="2334.8" r="6.8" fill="#000"/>
<circle cx="739.5" cy="2346.9" r="6.8" fill="#000"/>
<circle cx="792.4" cy="2347.4" r="6.8" fill="#000"/>
<circle cx="794" cy="2350" r="6.8" fill="#000"/>
<circle cx="788.5" cy="2361" r="6.8" fill="#000"/>
<circle cx="856.6" cy="2332.2" r="6.8" fill="#000"/>
<circle cx="849.5" cy="2341.6" r="6.8" fill="#000"/>
<circle cx="847.4" cy="2356" r="6.8" fill="#000"/>
<circle cx="909" cy="2373.6" r="6.8" fill="#000"/>
<circle cx="900.3" cy="2382" r="6.8" fill="#000"/>
<circle cx="905" cy="2377" r="6.8" fill="#000"/>
<path d="M218.75 2319.5 L218.75 2305.5 L333.75 2305.5 L333.75 2319.5" fill="none" stroke="#000" stroke-width="1.9" stroke-linejoin="round"/>
<path d="M169.5 2251.25 L169.5 2237.5 L388.75 2237.5 L388.75 2251.25" fill="none" stroke="#000" stroke-width="1.9" stroke-linejoin="round"/>
<path d="M214.5 2173 L214.5 2159.5 L444.5 2159.5 L444.5 2173" fill="none" stroke="#000" stroke-width="1.9" stroke-linejoin="round"/>
<path d="M212.5 2110 L212.5 2096.5 L671.5 2096.5 L671.5 2110" fill="none" stroke="#000" stroke-width="1.9" stroke-linejoin="round"/>
<path d="M212.5 2052.5 L212.5 2039 L908.5 2039 L908.5 2052.5" fill="none" stroke="#000" stroke-width="1.9" stroke-linejoin="round"/>
<text x="205" y="2286.25" font-size="31"><tspan font-style="italic">P</tspan><tspan font-size="20.8" dy="8.2">adj</tspan><tspan dy="-8.2"> = 0.01</tspan></text>
<text x="187" y="2219.5" font-size="31"><tspan font-style="italic">P</tspan><tspan font-size="20.8" dy="8.2">adj</tspan><tspan dy="-8.2"> = 2 x 10</tspan><tspan font-size="19.8" dy="-9.3">-5</tspan></text>
<text x="230" y="2140.5" font-size="31"><tspan font-style="italic">P</tspan><tspan font-size="20.8" dy="8.2">adj</tspan><tspan dy="-8.2"> = 1 x 10</tspan><tspan font-size="19.8" dy="-9.3">-13</tspan></text>
<text x="341.5" y="2081.5" font-size="31"><tspan font-style="italic">P</tspan><tspan font-size="20.8" dy="8.2">adj</tspan><tspan dy="-8.2"> = 1 x 10</tspan><tspan font-size="19.8" dy="-9.3">-4</tspan></text>
<text x="479" y="2020" font-size="31"><tspan font-style="italic">P</tspan><tspan font-size="20.8" dy="8.2">adj</tspan><tspan dy="-8.2"> = 0.02</tspan></text>
<rect x="122.9" y="1866.4" width="823.6" height="661" fill="none" stroke="#000" stroke-width="2.2"/>
<line x1="111.9" y1="1993.2" x2="122.9" y2="1993.2" stroke="#333" stroke-width="3.6" stroke-linecap="butt"/>
<text x="101.4" y="2003" font-size="27.5" text-anchor="end" fill="#000">9000</text>
<line x1="111.9" y1="2166.4" x2="122.9" y2="2166.4" stroke="#333" stroke-width="3.6" stroke-linecap="butt"/>
<text x="101.4" y="2176.2" font-size="27.5" text-anchor="end" fill="#000">6000</text>
<line x1="111.9" y1="2338.9" x2="122.9" y2="2338.9" stroke="#333" stroke-width="3.6" stroke-linecap="butt"/>
<text x="101.4" y="2348.7" font-size="27.5" text-anchor="end" fill="#000">3000</text>
<line x1="111.9" y1="2511.6" x2="122.9" y2="2511.6" stroke="#333" stroke-width="3.6" stroke-linecap="butt"/>
<text x="101.4" y="2521.4" font-size="27.5" text-anchor="end" fill="#000">0</text>
<line x1="190.9" y1="2527.4" x2="190.9" y2="2538.4" stroke="#333" stroke-width="3.6" stroke-linecap="butt"/>
<text x="205.9" y="2561.9" font-size="27.5" text-anchor="end" font-style="italic" transform="rotate(-45 205.9 2561.9)" fill="#000">NTC</text>
<line x1="305.52" y1="2527.4" x2="305.52" y2="2538.4" stroke="#333" stroke-width="3.6" stroke-linecap="butt"/>
<text x="320.52" y="2561.9" font-size="27.5" text-anchor="end" font-style="italic" transform="rotate(-45 320.52 2561.9)" fill="#000">ARPC3</text>
<line x1="420.14" y1="2527.4" x2="420.14" y2="2538.4" stroke="#333" stroke-width="3.6" stroke-linecap="butt"/>
<text x="435.14" y="2561.9" font-size="27.5" text-anchor="end" font-style="italic" transform="rotate(-45 435.14 2561.9)" fill="#000">MTOR</text>
<line x1="534.76" y1="2527.4" x2="534.76" y2="2538.4" stroke="#333" stroke-width="3.6" stroke-linecap="butt"/>
<text x="549.76" y="2561.9" font-size="27.5" text-anchor="end" font-style="italic" transform="rotate(-45 549.76 2561.9)" fill="#000">IRAK4</text>
<line x1="649.38" y1="2527.4" x2="649.38" y2="2538.4" stroke="#333" stroke-width="3.6" stroke-linecap="butt"/>
<text x="664.38" y="2561.9" font-size="27.5" text-anchor="end" font-style="italic" transform="rotate(-45 664.38 2561.9)" fill="#000">RIPK1</text>
<line x1="764" y1="2527.4" x2="764" y2="2538.4" stroke="#333" stroke-width="3.6" stroke-linecap="butt"/>
<text x="779" y="2561.9" font-size="27.5" text-anchor="end" font-style="italic" transform="rotate(-45 779 2561.9)" fill="#000">IRF1</text>
<line x1="878.62" y1="2527.4" x2="878.62" y2="2538.4" stroke="#333" stroke-width="3.6" stroke-linecap="butt"/>
<text x="893.62" y="2561.9" font-size="27.5" text-anchor="end" font-style="italic" transform="rotate(-45 893.62 2561.9)" fill="#000">JAK1</text>
<text x="25" y="2197.1" font-size="27.5" text-anchor="middle" transform="rotate(-90 25 2197.1)" fill="#000">Synaptosome phagocytosis (AU)</text>
<text x="534.2" y="2660.5" font-size="27.5" text-anchor="middle" fill="#000">sgRNA target</text>
<rect x="1231.1" y="2392" width="51.3" height="120" fill="#696969" stroke="none" stroke-width="1.4"/>
<rect x="1282.4" y="2313.75" width="51.5" height="198.25" fill="#8b0000" stroke="none" stroke-width="1.4"/>
<rect x="1345.9" y="2395" width="51.3" height="117" fill="#696969" stroke="none" stroke-width="1.4"/>
<rect x="1397.2" y="2326.25" width="51.5" height="185.75" fill="#8b0000" stroke="none" stroke-width="1.4"/>
<rect x="1460.7" y="2374.25" width="51.3" height="137.75" fill="#696969" stroke="none" stroke-width="1.4"/>
<rect x="1512" y="2307" width="51.5" height="205" fill="#8b0000" stroke="none" stroke-width="1.4"/>
<rect x="1575.5" y="2405.5" width="51.3" height="106.5" fill="#696969" stroke="none" stroke-width="1.4"/>
<rect x="1626.8" y="2200.5" width="51.5" height="311.5" fill="#8b0000" stroke="none" stroke-width="1.4"/>
<rect x="1690.3" y="2389.5" width="51.3" height="122.5" fill="#696969" stroke="none" stroke-width="1.4"/>
<rect x="1741.6" y="2361.25" width="51.5" height="150.75" fill="#8b0000" stroke="none" stroke-width="1.4"/>
<rect x="1805.1" y="2393" width="51.3" height="119" fill="#696969" stroke="none" stroke-width="1.4"/>
<rect x="1856.4" y="2346.75" width="51.5" height="165.25" fill="#8b0000" stroke="none" stroke-width="1.4"/>
<rect x="1919.9" y="2400" width="51.3" height="112" fill="#696969" stroke="none" stroke-width="1.4"/>
<rect x="1971.2" y="2206.25" width="51.5" height="305.75" fill="#8b0000" stroke="none" stroke-width="1.4"/>
<line x1="1215" y1="2312.3" x2="2038.8" y2="2312.3" stroke="#000" stroke-width="2" stroke-linecap="butt" stroke-dasharray="7.7,6"/>
<circle cx="1250" cy="2387.5" r="6.8" fill="#000"/>
<circle cx="1255" cy="2386.25" r="6.8" fill="#000"/>
<circle cx="1252.5" cy="2398.75" r="6.8" fill="#000"/>
<circle cx="1253.75" cy="2392.5" r="6.8" fill="#000"/>
<circle cx="1306.25" cy="2310" r="6.8" fill="#000"/>
<circle cx="1311.25" cy="2308.75" r="6.8" fill="#000"/>
<circle cx="1313.75" cy="2317.5" r="6.8" fill="#000"/>
<circle cx="1315" cy="2323.75" r="6.8" fill="#000"/>
<circle cx="1372.5" cy="2393.75" r="6.8" fill="#000"/>
<circle cx="1376.25" cy="2396.25" r="6.8" fill="#000"/>
<circle cx="1419.5" cy="2321.25" r="6.8" fill="#000"/>
<circle cx="1421.25" cy="2327.5" r="6.8" fill="#000"/>
<circle cx="1429.5" cy="2328.75" r="6.8" fill="#000"/>
<circle cx="1489.5" cy="2367" r="6.8" fill="#000"/>
<circle cx="1489.5" cy="2374.5" r="6.8" fill="#000"/>
<circle cx="1488" cy="2380" r="6.8" fill="#000"/>
<circle cx="1538" cy="2304.5" r="6.8" fill="#000"/>
<circle cx="1538.75" cy="2308.75" r="6.8" fill="#000"/>
<circle cx="1603.25" cy="2402.5" r="6.8" fill="#000"/>
<circle cx="1607.5" cy="2409.5" r="6.8" fill="#000"/>
<circle cx="1648.75" cy="2188.25" r="6.8" fill="#000"/>
<circle cx="1656.25" cy="2192.5" r="6.8" fill="#000"/>
<circle cx="1656.25" cy="2219.25" r="6.8" fill="#000"/>
<circle cx="1709.25" cy="2389.5" r="6.8" fill="#000"/>
<circle cx="1719.25" cy="2388.25" r="6.8" fill="#000"/>
<circle cx="1763" cy="2358.75" r="6.8" fill="#000"/>
<circle cx="1772.5" cy="2363.75" r="6.8" fill="#000"/>
<circle cx="1765" cy="2361.25" r="6.8" fill="#000"/>
<circle cx="1827" cy="2390" r="6.8" fill="#000"/>
<circle cx="1836.25" cy="2394.25" r="6.8" fill="#000"/>
<circle cx="1832.5" cy="2392.5" r="6.8" fill="#000"/>
<circle cx="1878.75" cy="2341.25" r="6.8" fill="#000"/>
<circle cx="1885" cy="2349.5" r="6.8" fill="#000"/>
<circle cx="1881.25" cy="2346.25" r="6.8" fill="#000"/>
<circle cx="1951.25" cy="2396.25" r="6.8" fill="#000"/>
<circle cx="1946.25" cy="2401.25" r="6.8" fill="#000"/>
<circle cx="1945" cy="2407.5" r="6.8" fill="#000"/>
<circle cx="2000.5" cy="2201.25" r="6.8" fill="#000"/>
<circle cx="1992.5" cy="2207.5" r="6.8" fill="#000"/>
<circle cx="1996.25" cy="2210" r="6.8" fill="#000"/>
<path d="M1307.5 2280.5 L1307.5 2267.5 L1423.75 2267.5 L1423.75 2280.5" fill="none" stroke="#000" stroke-width="1.9" stroke-linejoin="round"/>
<path d="M1310.3 2160.6 L1310.3 2148.3 L1649.7 2148.3 L1649.7 2160.6" fill="none" stroke="#000" stroke-width="1.9" stroke-linejoin="round"/>
<path d="M1307.8 2095.9 L1307.8 2082.6 L1761.9 2082.6 L1761.9 2095.9" fill="none" stroke="#000" stroke-width="1.9" stroke-linejoin="round"/>
<path d="M1307.8 2030.7 L1307.8 2018.3 L1882 2018.3 L1882 2030.7" fill="none" stroke="#000" stroke-width="1.9" stroke-linejoin="round"/>
<path d="M1307.8 1965.5 L1307.8 1954.1 L1994.1 1954.1 L1994.1 1965.5" fill="none" stroke="#000" stroke-width="1.9" stroke-linejoin="round"/>
<text x="1296.25" y="2248.75" font-size="31"><tspan font-style="italic">P</tspan><tspan font-size="20.8" dy="8.2">adj</tspan><tspan dy="-8.2"> = 0.04</tspan></text>
<text x="1383.9" y="2131" font-size="31"><tspan font-style="italic">P</tspan><tspan font-size="20.8" dy="8.2">adj</tspan><tspan dy="-8.2"> = 2 x 10</tspan><tspan font-size="19.8" dy="-9.3">-13</tspan></text>
<text x="1438.8" y="2065.3" font-size="31"><tspan font-style="italic">P</tspan><tspan font-size="20.8" dy="8.2">adj</tspan><tspan dy="-8.2"> = 1 x 10</tspan><tspan font-size="19.8" dy="-9.3">-7</tspan></text>
<text x="1509.9" y="2000" font-size="31"><tspan font-style="italic">P</tspan><tspan font-size="20.8" dy="8.2">adj</tspan><tspan dy="-8.2"> = 1 x 10</tspan><tspan font-size="19.8" dy="-9.3">-5</tspan></text>
<text x="1558.3" y="1936.8" font-size="31"><tspan font-style="italic">P</tspan><tspan font-size="20.8" dy="8.2">adj</tspan><tspan dy="-8.2"> = 3 x 10</tspan><tspan font-size="19.8" dy="-9.3">-13</tspan></text>
<rect x="1215" y="1866.4" width="823.8" height="661.1" fill="none" stroke="#000" stroke-width="2.2"/>
<line x1="1204" y1="2073.7" x2="1215" y2="2073.7" stroke="#333" stroke-width="3.6" stroke-linecap="butt"/>
<text x="1193.5" y="2083.5" font-size="27.5" text-anchor="end" fill="#000">1000</text>
<line x1="1204" y1="2293" x2="1215" y2="2293" stroke="#333" stroke-width="3.6" stroke-linecap="butt"/>
<text x="1193.5" y="2302.8" font-size="27.5" text-anchor="end" fill="#000">500</text>
<line x1="1204" y1="2512" x2="1215" y2="2512" stroke="#333" stroke-width="3.6" stroke-linecap="butt"/>
<text x="1193.5" y="2521.8" font-size="27.5" text-anchor="end" fill="#000">0</text>
<line x1="1282.4" y1="2527.5" x2="1282.4" y2="2538.5" stroke="#333" stroke-width="3.6" stroke-linecap="butt"/>
<text x="1297.4" y="2562" font-size="27.5" text-anchor="end" font-style="italic" transform="rotate(-45 1297.4 2562)" fill="#000">NTC</text>
<line x1="1397.2" y1="2527.5" x2="1397.2" y2="2538.5" stroke="#333" stroke-width="3.6" stroke-linecap="butt"/>
<text x="1412.2" y="2562" font-size="27.5" text-anchor="end" font-style="italic" transform="rotate(-45 1412.2 2562)" fill="#000">ARPC3</text>
<line x1="1512" y1="2527.5" x2="1512" y2="2538.5" stroke="#333" stroke-width="3.6" stroke-linecap="butt"/>
<text x="1527" y="2562" font-size="27.5" text-anchor="end" font-style="italic" transform="rotate(-45 1527 2562)" fill="#000">MTOR</text>
<line x1="1626.8" y1="2527.5" x2="1626.8" y2="2538.5" stroke="#333" stroke-width="3.6" stroke-linecap="butt"/>
<text x="1641.8" y="2562" font-size="27.5" text-anchor="end" font-style="italic" transform="rotate(-45 1641.8 2562)" fill="#000">IRAK4</text>
<line x1="1741.6" y1="2527.5" x2="1741.6" y2="2538.5" stroke="#333" stroke-width="3.6" stroke-linecap="butt"/>
<text x="1756.6" y="2562" font-size="27.5" text-anchor="end" font-style="italic" transform="rotate(-45 1756.6 2562)" fill="#000">RIPK1</text>
<line x1="1856.4" y1="2527.5" x2="1856.4" y2="2538.5" stroke="#333" stroke-width="3.6" stroke-linecap="butt"/>
<text x="1871.4" y="2562" font-size="27.5" text-anchor="end" font-style="italic" transform="rotate(-45 1871.4 2562)" fill="#000">IRF1</text>
<line x1="1971.2" y1="2527.5" x2="1971.2" y2="2538.5" stroke="#333" stroke-width="3.6" stroke-linecap="butt"/>
<text x="1986.2" y="2562" font-size="27.5" text-anchor="end" font-style="italic" transform="rotate(-45 1986.2 2562)" fill="#000">JAK1</text>
<text x="1116" y="2197.5" font-size="27.5" text-anchor="middle" transform="rotate(-90 1116 2197.5)" fill="#000">VCAM1 MFI (AU)</text>
<text x="1626.8" y="2660.5" font-size="27.5" text-anchor="middle" fill="#000">sgRNA target</text>
<text x="22" y="1910.7" font-size="49" text-anchor="start" font-weight="bold" fill="#000">c</text>
<text x="1091" y="1909" font-size="49" text-anchor="start" font-weight="bold" fill="#000">d</text>
<text x="947" y="2642.1" font-size="27.5" text-anchor="start" fill="#000">Cytokine treatment</text>
<rect x="947.9" y="2657.9" width="61" height="24.4" fill="#696969" stroke="none" stroke-width="1.4"/>
<rect x="947.9" y="2688.6" width="61" height="25.9" fill="#8b0000" stroke="none" stroke-width="1.4"/>
<circle cx="978.2" cy="2670.4" r="6.4" fill="#000"/>
<circle cx="978.2" cy="2701.6" r="6.4" fill="#000"/>
<text x="1027.3" y="2680.5" font-size="27.5" text-anchor="start" fill="#000">Vehicle</text>
<text x="1027.3" y="2710.9" font-size="27.5" text-anchor="start" fill="#000">IL-1α+TNF+C1q</text>
</svg>
</body></html>
